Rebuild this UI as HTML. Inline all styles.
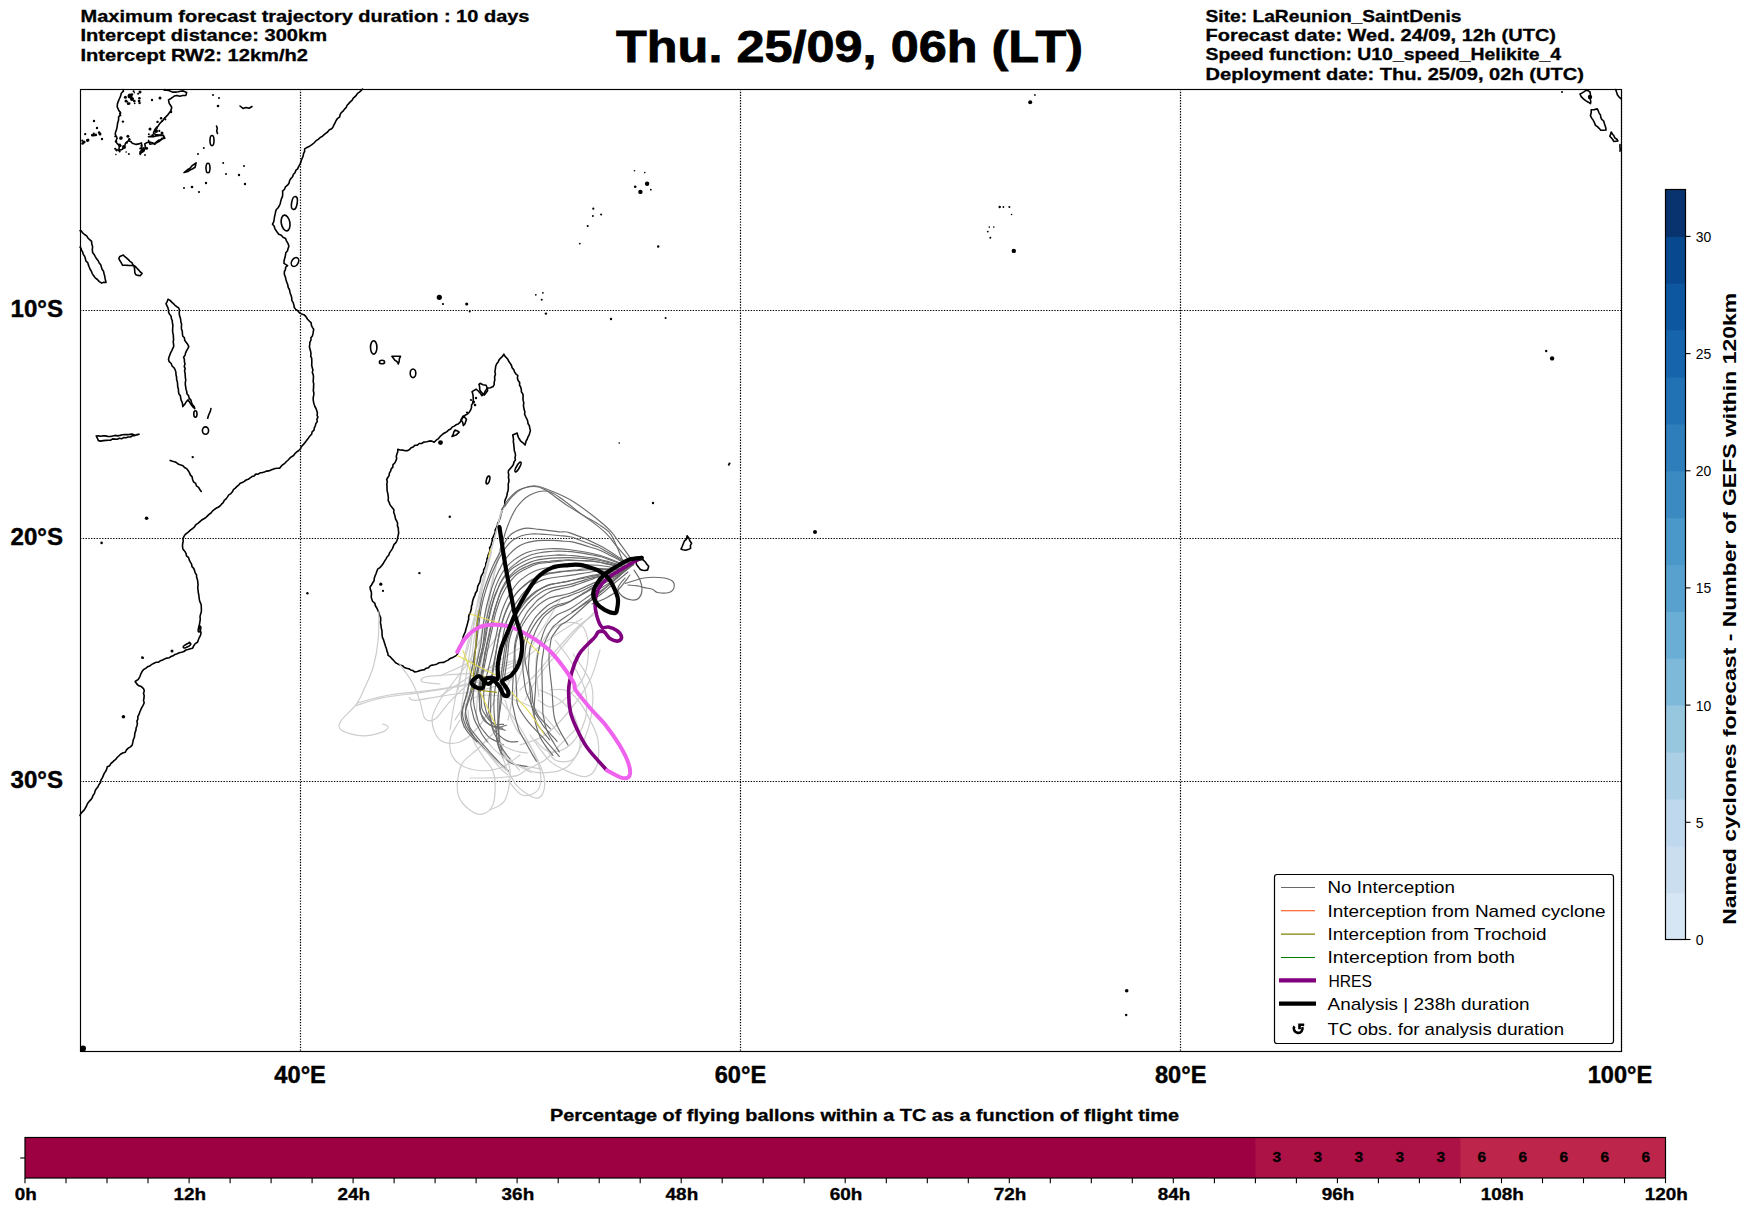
<!DOCTYPE html><html><head><meta charset="utf-8"><style>html,body{margin:0;padding:0;background:#fff;overflow:hidden}svg{display:block}text{font-family:"Liberation Sans",sans-serif;fill:#000}</style></head><body>
<svg width="1752" height="1213" viewBox="0 0 1752 1213">
<rect width="1752" height="1213" fill="#fff"/>
<text x="80.5" y="22.3" font-size="16.4" font-weight="bold" stroke="#000" stroke-width="0.3" textLength="449" lengthAdjust="spacingAndGlyphs" >Maximum forecast trajectory duration : 10 days</text>
<text x="80.5" y="40.5" font-size="16.4" font-weight="bold" stroke="#000" stroke-width="0.3" textLength="246.5" lengthAdjust="spacingAndGlyphs" >Intercept distance: 300km</text>
<text x="80.5" y="60.5" font-size="16.4" font-weight="bold" stroke="#000" stroke-width="0.3" textLength="227.5" lengthAdjust="spacingAndGlyphs" >Intercept RW2: 12km/h2</text>
<text x="1205.5" y="22.1" font-size="16.4" font-weight="bold" stroke="#000" stroke-width="0.3" textLength="256" lengthAdjust="spacingAndGlyphs" >Site: LaReunion_SaintDenis</text>
<text x="1205.5" y="40.6" font-size="16.4" font-weight="bold" stroke="#000" stroke-width="0.3" textLength="350.5" lengthAdjust="spacingAndGlyphs" >Forecast date: Wed. 24/09, 12h (UTC)</text>
<text x="1205.5" y="59.7" font-size="16.4" font-weight="bold" stroke="#000" stroke-width="0.3" textLength="355.5" lengthAdjust="spacingAndGlyphs" >Speed function: U10_speed_Helikite_4</text>
<text x="1205.5" y="80" font-size="16.4" font-weight="bold" stroke="#000" stroke-width="0.3" textLength="378.5" lengthAdjust="spacingAndGlyphs" >Deployment date: Thu. 25/09, 02h (UTC)</text>
<text x="616" y="62" font-size="44.1" font-weight="bold" stroke="#000" stroke-width="0.8" textLength="467" lengthAdjust="spacingAndGlyphs" >Thu. 25/09, 06h (LT)</text>
<g fill="none" stroke="#000" stroke-width="1.6" stroke-linejoin="round" stroke-linecap="round">
<path d="M362.5,89 L361,90.6 L359.4,92.1 L357.5,93.4 L356.3,95.3 L354.7,96.8 L353.1,98.3 L352,100.4 L350.2,101.9 L348.7,103.6 L347.1,105.2 L346.2,107.5 L344.5,109.1 L343.3,110.9 L341.3,112.6 L340.1,114.7 L339.5,117.2 L337.3,118.7 L336,120.7 L335,123 L333.8,125.1 L332.8,127.5 L331.2,129.1 L329,130.1 L327.6,132 L325.7,133.3 L323.9,134.8 L322.3,136.4 L320.2,137.5 L318.2,139.4 L315.8,140.9 L314,143 L311.9,144.7 L309.6,146.2 L307,147.4 L304.7,148.9 L304.6,151.3 L303.5,153.6 L303.2,155.9 L302.3,158 L301.4,160.1 L300.8,162.4 L299.9,164.5 L298.6,166.6 L297.6,168.8 L295.8,170.4 L295,172.7 L293.3,174.5 L292.6,176.8 L290.9,178.5 L289.6,180.7 L289,183.2 L287.5,185.2 L285.5,186.8 L284.5,189.2 L282.6,191.1 L282.7,193.8 L282.5,196.4 L281.4,198.9 L280.7,201.4 L280.2,203.7 L279.3,205.8 L278.1,207.7 L276.4,209.5 L275.6,211.6 L275.2,213.9 L274.6,216.4 L274.2,219 L273.8,221.6 L272.5,224.2 L274.1,226 L274.8,228.3 L275.9,230.3 L277.1,232.1 L278.8,234.2 L281.3,235.2 L283,237.2 L285.6,238.4 L286.3,240.6 L287.5,242.6 L288.5,244.6 L288.8,246.6 L288,248.7 L287.4,251 L285.8,252.8 L285.5,255.1 L284.9,257.8 L284.1,260.5 L284,263.4 L287.6,265.6 L285.7,267.2 L285.4,269.7 L284.4,271.5 L284.3,274.2 L285.3,276.7 L285.9,279.3 L286.6,281.7 L287.7,284.5 L288.2,287.4 L289.6,290 L290,292.7 L291,295.2 L291.7,297.8 L291.9,300.6 L293.2,302.7 L293.9,305.1 L294.3,307.5 L295.7,309.4 L297.8,310.7 L299.4,312.7 L301.5,313.9 L303.9,314.7 L306,316.7 L307.6,319.2 L309.5,321.2 L311.2,322.9 L311.4,325.4 L312.4,327.4 L313.7,329.3 L313.3,331.5 L313,333.7 L312.4,335.9 L310.9,337.7 L311,340.1 L309.9,342.1 L309.8,344.3 L309.4,346.7 L310,349 L310.6,351.3 L311,353.6 L310.7,356.1 L311.7,358.3 L311.8,360.7 L311.8,363.1 L311.7,365.5 L312.3,367.8 L312.9,370.1 L312.3,372.4 L313.2,374.7 L313.5,377 L313.3,379.3 L313.2,381.6 L313.7,383.8 L313.6,386.1 L313.5,388.4 L313.3,390.7 L313.9,393 L313.7,395.3 L313.2,397.6 L313.2,399.9 L313.6,402.2 L314.2,404.4 L314.9,406.5 L316,408.5 L316.7,410.6 L317.4,412.8 L317.1,415.2 L317.9,417.1 L316.9,419.2 L317.2,421.7 L315.8,423.6 L315.3,425.8 L314.3,427.9 L314,430.2 L312.1,431.8 L311.6,434.3 L309.9,436 L308.5,437.9 L307.1,439.7 L305.8,441.6 L304.4,443.4 L302.8,445.1 L301.3,446.8 L300.4,449 L298.7,450.5 L296.8,451.9 L295,453.5 L293.6,455.5 L291.6,456.7 L289.8,458.2 L288.2,460 L286.4,461.5 L284.8,463.3 L282.9,464.7 L281.2,466.2 L279.6,468.3 L277.3,468.3 L275.1,468.5 L273,469.2 L270.9,470 L268.8,470.9 L266.6,471.1 L264.5,471.9 L262.4,472.6 L260.1,472.8 L258.2,474.2 L255.8,474.1 L254.2,475.9 L252,476.6 L250.1,477.9 L248.3,479.3 L246.1,480 L244.3,481.4 L242.3,482.5 L240.2,483.3 L238.7,485.1 L237,486.4 L235.3,488.1 L233.4,489.6 L232.4,491.8 L230.9,493.6 L228.8,494.9 L227.5,496.9 L226.1,498.9 L224.3,500.4 L223.2,502.6 L221.5,504.2 L220,506 L218.1,507.2 L216,508.3 L214.2,509.7 L212.4,511.1 L211,513 L209,514.4 L207.3,516.1 L205.6,517.8 L203.5,519 L201.4,520.3 L199.6,521.8 L197.9,523.4 L195.9,524.7 L194.5,526.8 L192.7,528.5 L190.7,529.8 L189,531.4 L187.2,533 L185.3,534.3 L184,536.4 L183,538.6 L183.2,541.3 L182.6,544 L182.5,546.6 L183,549.3 L184.7,551.2 L186,553.3 L186.5,555.9 L188.6,557.6 L189.3,560.1 L190.4,562.2 L191.6,564.2 L192,566.6 L193.7,568.4 L194.6,570.6 L195.2,572.9 L196.5,574.8 L196.6,577.2 L197.5,579.8 L197.8,582.3 L198.1,584.9 L197.7,587.5 L198.1,590.1 L198.3,592.6 L198.8,595 L199.1,597.5 L199.4,600 L200.2,602.4 L201.2,604.7 L201.3,607.2 L201.4,609.7 L201.3,612.1 L200.5,614.4 L200,616.8 L200.3,619.3 L199.9,621.7 L199.5,624.1 L198.9,626.6 L199.8,628.6 L200.4,630.8 L201,632.8 L200.5,635.3 L199.3,637.5 L198.4,639.7 L197.5,642.2 L195.2,643.6 L193.8,645.7 L192.6,648.2 L190.3,648.7 L188,649.4 L185.8,650 L183.9,651.5 L181.6,652.2 L179.3,652.7 L177.2,653.7 L175,654.4 L173.1,655.8 L171,656.5 L169.1,657.8 L166.8,658.1 L164.6,658.9 L162.6,660 L160.5,660.7 L158.6,662.1 L156.2,662.3 L154,663.3 L151.8,664.4 L149.8,666 L147.5,666.8 L145.6,668.3 L143.5,669.7 L142,671.6 L140.9,673.8 L139.9,676.6 L138.3,679.3 L135.2,681.5 L136.5,683.6 L138.3,685.4 L141.3,686.6 L143.5,688.6 L144.3,691 L143.5,693.3 L144.2,695.7 L144,698 L143.5,700.4 L144.2,702.8 L143.2,705.2 L141.9,707.4 L140.8,709.7 L139.8,712 L139,714.4 L137.8,716.7 L137.9,719.1 L136.9,721.2 L137.4,723.7 L136.9,725.9 L136.1,728.1 L135.9,730.4 L135,732.6 L134.7,734.9 L134.4,737.2 L133.3,739.7 L132.8,742.4 L132.2,745.1 L130.4,746.8 L128.3,748.2 L126.5,749.9 L125.2,752.3 L122.7,753 L120.5,754.2 L118.7,756 L117.1,757.5 L115.8,759.3 L114,760.6 L112.5,762.2 L110.8,763.7 L109.7,765.7 L107.3,766.7 L106.7,769.1 L105.7,771.3 L104.2,773.4 L103.3,775.7 L102.3,777.9 L101,780 L100.5,782.5 L99,784.5 L98,786.7 L96.4,788.7 L95.1,790.9 L94.5,793.4 L93,795.5 L92.1,797.9 L90.6,799.9 L88.9,801.7 L87.4,803.7 L86.5,806 L85.3,808.1 L84.1,810.2 L82.3,811.9 L80.7,813.7 L80,815.5"/>
<path d="M123.1,89.5 L123.4,91.1 L121.3,93.2 L120.6,96.1 L119.5,98.5 L118.5,100.9 L117.4,103.9 L117.2,106.9 L118.9,110.6 L120.6,112.5 L120.1,114.9 L118.6,116.9 L118.6,120.1 L117.6,123.1 L117.2,126.3 L116.6,129.4 L115.7,131.7 L115.2,134.2 L117.1,138 L115.8,141.6 L117.2,143.6 L119.2,145.4 L119.1,147.9 L118.8,150.4 L122.6,149.2 L123.6,147 L124.9,145.1 L125.7,143 L128.5,140.7 L130.7,141.4 L132.3,143.2 L136.2,144.4 L138.7,143.9 L141.3,142.9 L141.9,145.3 L141.9,147.6 L141.8,150 L140.1,151.7 L140,154.4 L141.5,152.5 L143.3,151.5 L145.6,147.8 L144.7,143.9 L147.1,142.5 L149.5,142 L152.2,142.8 L154.9,144.3 L156.3,142 L158.4,140.3 L160.5,139.8 L162.3,138.2 L164.3,138.1 L163.3,135.3 L160.9,135 L158.6,135 L155.7,134.6 L153.4,133 L154.9,129.5 L156.3,127.6 L158.1,126.1 L159.4,124.1 L161.1,122.1 L163,120.3 L164.8,117.8 L167.1,115.7 L169,113.2 L170.9,110.7 L171.7,107.2 L170.5,105.3 L169.2,103.4 L168.5,99.9 L170.5,98.8 L172.1,97.6 L174.3,96.1 L176.9,95.4 L179.8,96.2 L182.7,95.5 L185.9,95.4 L186.7,92.4 L183.1,90.9 L180.6,91.3 L178.2,91.8 L175.7,92.1 L172.5,92.1 L169.5,90.7 L167.1,90.2 L164.2,90.3 L164.6,89.5"/>
<path d="M148.5,136.7 L151,136.4 L153.5,136.6 L155.9,136 L158.3,135.6 L160.8,135.3 L163.3,135.5 L164.9,138.3 L162.5,138.8 L160.7,140.1 L158.9,141.5 L157.1,142.5 L154.7,143.2 L152.2,143.8 L149.8,144.1 L148.5,140.4"/>
<path d="M80,230.7 L81.2,230.7 L82.6,232.9 L84.5,234.5 L86.7,235.9 L88,238.2 L89.9,239.8 L91.6,241.4 L91.8,244.1 L92.6,246.8 L92.3,249.5 L92.6,252.4 L94.1,254.4 L95.3,256.6 L96.6,258.8 L98.2,260.7 L99.2,263 L100.7,264.8 L101.4,267.1 L102.1,269.3 L103.5,271.2 L104,273.5 L104.6,275.7 L105.2,279 L106,282.5 L103.6,282.2 L101.7,283.1 L99.3,281.6 L97.4,279.5 L95.2,277.9 L93.7,275.7 L92.2,273.6 L91.4,271.2 L90.1,269.2 L89.2,267 L88.4,264.9 L87.7,262.6 L85.8,260.9 L85.4,258.5 L84.6,256.3 L83.3,254.4 L82.7,252.2 L81.5,250.2 L81,248.2 L80,247"/>
<path d="M170.2,460.4 L172.4,461.2 L174.6,461.8 L176.7,462.8 L178.6,464.3 L180.8,464.9 L183,465.7 L184.5,467.5 L186.6,468.6 L187.9,470.2 L189.3,472.4 L190.3,474.9 L192.1,476.9 L192.6,479.5 L193.6,482 L195.7,483.4 L196.4,485.9 L198.6,487.3 L199.8,489.5 L201.3,491.4"/>
<path d="M210.9,408.6 L210.4,411.1 L209.3,413.5 L208.4,415.8 L207.7,418.3"/>
<path d="M216.5,126 L217.3,128.4 L216.7,131 L217.5,133.4"/>
<path d="M240,106 L243,108.4 L246,107.5 L249.1,108.3 L252,106.5"/>
<path d="M1615.7,89.5 L1616.6,92.2 L1617.4,94.7 L1618.9,96.9 L1620.9,98.6"/>
<path d="M1620,144.6 L1619.9,146.8 L1620.2,149.1 L1620,151.3"/>
<path d="M503.9,354.1 L504.9,356.1 L506.5,357.8 L508,359.6 L508.9,361.6 L510.3,363.4 L511.5,365.5 L512.1,367.8 L513.7,369.6 L514.5,371.9 L515.8,373.8 L517.8,375.5 L517.4,378.1 L518.1,380.4 L519.7,382.4 L519.5,385 L520.7,387.1 L521.3,389.5 L521.4,391.9 L522.8,394 L523.2,396.4 L522.9,398.7 L523.3,400.9 L523.8,403.1 L523.4,405.3 L523.8,407.6 L524.2,409.8 L524.9,411.9 L524.6,414.2 L525.6,416.5 L526.7,418.7 L527.7,421 L528,423.5 L529.3,425.7 L529.8,428.2 L530.4,430.4 L529.8,432.6 L529.2,434.9 L528,436.9 L527.3,439 L526.1,441 L525.5,443.3 L525.1,445 L522.9,442.8 L520.5,440.8 L519,438.5 L517.9,436.1 L517.2,433.1 L515,434 L512.7,435 L513.2,437.2 L513.5,439.4 L513.3,441.7 L513.7,443.9 L513.9,446.1 L514.2,448.3 L514.3,450.7 L515.2,453 L515.5,455.4 L515,457.9 L515.4,459.9 L514,462 L513.3,464.7 L511.8,466.7 L510.1,468.7 L508.5,470.6 L508.3,472.8 L508.8,475.1 L508.4,477.3 L508.9,479.5 L508.9,481.7 L508.2,483.9 L508.3,486.2 L508.3,488.4 L508,490.7 L507.3,492.9 L507,495.2 L506.3,497.3 L505.3,499.5 L504.7,501.7 L504.9,504.1 L504.3,506.3 L502.6,508.9 L501.8,511.7 L500.7,514.4 L500.5,516.8 L499.6,519 L499,521.3 L497.7,523.3 L497.4,525.7 L496.3,527.8 L495.2,529.9 L495.2,532.4 L494.2,534.5 L493.3,536.6 L492.4,538.8 L492.1,541.2 L491.5,543.4 L491,545.7 L489.6,547.7 L489.9,550.2 L489.4,552.4 L488.3,554.5 L487.8,556.7 L487,558.9 L486.9,561.2 L485.8,563.3 L485.8,565.6 L484.9,567.7 L483.7,569.6 L483.6,571.9 L482.6,573.9 L481.4,575.8 L480.7,577.9 L480.4,580.1 L479.8,582.3 L478.8,584.2 L477.7,586.3 L477.4,588.7 L476.9,591 L475.5,593 L474.9,595.3 L473.8,597.4 L473.1,599.6 L472.4,601.9 L472.3,604.2 L471.4,606.2 L471.4,608.5 L470.8,610.7 L470.2,612.8 L469.1,614.8 L468.6,617 L468.7,619.3 L468,621.4 L467.5,623.6 L466.9,625.7 L466.3,627.9 L465.7,630 L465.2,632.2 L464.2,634.2 L463.3,636.3 L463,638.5 L462.1,640.5 L461.5,642.7 L461,645 L459.6,646.8 L458.6,648.9 L458.4,651.3 L457.8,653.5 L456.5,655.4 L454.4,656.6 L452.3,657.7 L450,658.6 L448.1,660.1 L446,661.1 L443.8,662.4 L441.3,662.5 L438.9,662.8 L436.7,664.2 L434.4,664.7 L432.1,665.1 L430,665.9 L428.5,667.7 L426.2,668.2 L424.5,669.6 L422.2,670 L419.8,670.6 L417.4,671.5 L414.8,672 L412.9,670.6 L410.7,669.9 L408.8,668.8 L406.5,668.3 L404.4,667.5 L402.5,665.7 L400.1,664.9 L397.8,663.9 L395.6,662.8 L393.9,660.8 L392.1,658.9 L390.4,656.9 L388.1,655.4 L387.8,653.1 L386.9,650.9 L386.4,648.6 L385.6,646.4 L384.9,644.2 L384.2,641.9 L383.5,639.7 L382.5,637.6 L382.1,635.1 L382,632.6 L381.9,630.2 L381.2,627.7 L381,625.3 L380.4,622.9 L380.7,620.2 L380.6,617.5 L379.5,615 L379,612.6 L377.8,610.3 L376.8,608 L375.4,605.8 L374.8,603.2 L372.7,601.5 L371.7,599 L371.2,596.7 L371.5,594.3 L371.3,591.9 L370.4,589.6 L370,587 L371.5,585 L372.7,582.8 L374.1,580.7 L374.3,578.1 L375.1,575.9 L376,573.7 L376.8,571.5 L377.6,569.2 L379.9,567.6 L381.8,565.5 L383.4,563.2 L384.6,561.1 L385.9,559.1 L387,557 L388.7,555.2 L389.5,552.9 L390.9,550.9 L392.3,548.9 L393.2,546.6 L394.1,544.4 L395.9,542.6 L397,540.5 L397.6,538.2 L398.1,535.6 L398.7,533 L398.4,530.4 L398.3,527.9 L397.4,525.7 L397.6,523.2 L396.7,521 L395.5,518.9 L395.1,516.7 L394.5,514.4 L393.7,512.3 L393.9,509.7 L392.5,508 L391.1,506.3 L389.8,504.4 L389.2,502.3 L388.1,500.3 L388.4,498 L388.1,495.7 L387.8,493.4 L387.2,491.1 L387,488.8 L387,486.4 L386.8,484.1 L387.3,481.8 L386.7,479.5 L387.8,477.5 L389.1,475.6 L389.4,473.2 L390.6,471.2 L391.2,468.9 L392.8,467.1 L393,464.7 L394.8,463 L395.8,460.9 L396.7,458.8 L396.3,456.4 L396.8,454.2 L397.7,452.1 L397.8,449.4 L400.2,450 L402.7,450.1 L405,450.8 L407.6,450.6 L409.6,449.5 L411.1,447.8 L413.2,446.9 L414.9,445.3 L417.3,445.1 L419.2,443.5 L421.7,443.5 L423.7,442.1 L426.8,441.7 L429.7,440.9 L431.9,441.1 L434.2,442.3 L436.2,440.2 L438.5,438.6 L440.6,436 L443.1,433.8 L445,432.7 L447,431.6 L448.6,430 L450.7,429 L452.1,427.1 L454.2,426.1 L456,424.8 L458.2,423.9 L460,422.4 L461.5,419.6 L462.7,416.5 L465.1,415.3 L467.5,414 L469.3,412.2 L470.6,410 L471.5,407.7 L471.5,405.1 L473,402.9 L473.3,400.3 L473.2,397.9 L473,394.8 L472.1,391.7 L474.1,390.4 L476.1,389.2 L478.3,391 L480.2,393.1 L482,395.7 L484.2,393.3 L485.5,390.7 L487.3,388.3 L490.4,387.8 L493.1,386.6 L494.2,384.5 L494.2,382.2 L494.8,380 L494.6,377 L495.4,374.2 L494.9,371.4 L495.4,368.8 L495.7,366.2 L496.7,363.8 L498.2,361.9 L499.2,359.6 L500.9,357.9 L502.7,356.2 L503.9,354.1 L503.9,354.1Z"/>
<path d="M119.8,256.4 L123.3,255.1 L124.9,256.7 L126.7,258.1 L128.4,259.6 L129.9,261.3 L131.9,262.6 L133.1,265 L135.3,266.4 L137,268.2 L138.7,270.1 L140.3,272 L142.1,273.4 L140.2,275.8 L138,275.4 L135.8,274.7 L134.8,272.7 L134.7,270.4 L134.5,268.2 L133.8,265.6 L131.1,265.5 L128.4,265.4 L125.7,265.2 L122.6,265.3 L121.4,263 L120,260.8 L118.8,258.7 L119.8,256.4Z"/>
<path d="M168,299.3 L170.1,300.4 L171.7,302.1 L173.4,303.6 L175,305.3 L176.8,306.7 L178.7,307.9 L179.5,310.2 L179.2,312.6 L179.4,314.9 L180.1,317.2 L180.7,319.5 L180.9,321.9 L181.6,324.1 L181.4,326.5 L181.4,328.9 L182.3,331.2 L182.4,333.5 L182.7,336 L184.4,337.8 L184.7,340.3 L186.1,342.3 L187.6,344.2 L188.8,346.7 L187.8,348.7 L186.6,350.7 L185.6,352.8 L185.1,355.1 L183.6,357.2 L184.4,359.5 L184.4,361.8 L185,364 L184.2,366.4 L185.2,368.6 L184.5,370.9 L185.1,373.2 L185.2,375.5 L185.4,377.8 L185.8,380.1 L185.3,382.4 L185.3,384.7 L185.7,386.9 L186,389.2 L186.7,391.3 L187,393.8 L188.6,395.7 L189.1,398.1 L190.8,399.9 L191.5,402.2 L192.3,404.5 L194,406.3 L194.8,408.6 L192.8,406.8 L191.2,404.7 L189.7,402.4 L188,399.8 L186.2,401.9 L184.7,404.3 L182.8,406.6 L182.6,404.3 L182.1,402.1 L181.1,400.1 L180.7,397.9 L180.3,395.7 L178.9,393.8 L178.5,391.6 L178.4,389.1 L177.7,386.8 L177.6,384.4 L177.4,381.9 L176.6,379.6 L176.6,377.2 L176,374.8 L175.9,372.4 L175.3,370.1 L174.1,367.8 L172.1,366 L171.2,363.5 L169.2,361.7 L168.5,359.5 L169,357.2 L169.8,355 L170.6,352.9 L171.7,350.8 L172.7,348.7 L173.7,346.5 L173.6,344.1 L173.2,341.8 L173.6,339.4 L173.4,337.1 L173.3,334.8 L172.7,332.4 L172.6,330.1 L172.7,327.7 L172.9,325.4 L172.4,323 L172.3,320.7 L171.4,318.6 L171.1,316.3 L169.7,314.4 L168.6,312.3 L168.5,309.9 L167.9,307.7 L166.9,305.6 L166,303.6 L167.2,301.6 L168,299.3Z"/>
<path d="M96.2,436 L98.5,435.9 L100.8,436.3 L103.1,435.8 L105.4,435.9 L107.7,436.4 L110,436.5 L112.5,436.1 L114.9,435.4 L117.5,435.9 L120,435.4 L122.5,434.8 L125,434.6 L127.3,434.6 L129.7,434.4 L132,434.1 L134.4,435 L136.8,435 L139.1,434.2 L136.8,434.6 L134.8,435.6 L132.5,435.8 L130.4,437 L128.1,437 L126,437.7 L123.7,437.6 L121.6,438.8 L119.3,438.3 L117.2,439.3 L114.9,439.1 L112.6,438.9 L110.5,440.2 L108.3,440.2 L106,440.4 L103.3,440.6 L100.7,441.1 L98.4,440.6 L97.4,438.3 L96.2,436Z"/>
<path d="M184,172.6 L185.9,171 L187.9,169.4 L190.1,168.1 L191.9,165.9 L194,164.3 L196.1,162.8 L195.1,167.2 L192.7,168.7 L190.1,169.9 L187.9,171.5 L184,172.6Z"/>
<path d="M636,561.2 L638.2,560.6 L640.3,559.8 L642.7,559.4 L645.5,562.2 L646.8,564.3 L648.7,566.3 L647.6,569.9 L645.1,570.5 L642.6,570.3 L640.4,569.4 L638.8,567.5 L636.5,564.5 L636,561.2Z"/>
<path d="M687.1,535.7 L688.8,538 L689.8,540.7 L691.6,543.2 L690.4,545.5 L690.6,548.4 L688.1,549.6 L685.6,550.3 L683,549.8 L681,549 L682.2,546.5 L683.2,544 L684.3,541.2 L686.5,539.1 L687.1,535.7Z"/>
<path d="M480.1,383.3 L482.9,384.8 L486.1,385.3 L487.1,387.8 L487.6,390.7 L485.9,393 L484.3,395.1 L482.5,393.6 L481.2,391.9 L479.8,390 L479.6,386.9 L479,384.3 L480.1,383.3Z"/>
<path d="M461,419.6 L462.6,417.9 L464.2,416.4 L466.5,419.4 L465.7,421.5 L465,423.7 L463.4,425.6 L462.7,422.4 L461,419.6Z"/>
<path d="M452,436.5 L453.2,434.4 L453.8,432.1 L454.9,430.1 L457.5,430.9 L459.2,432.1 L456,435.1 L452,436.5Z"/>
<path d="M391.9,356.3 L394.6,356.3 L397.3,356.3 L400.5,356.4 L399.4,358.7 L399.2,361.3 L398.3,363.9 L397.1,361.6 L394.9,360.3 L393.4,358.3 L391.9,356.3Z"/>
<path d="M1591.2,109.7 L1594.2,109.6 L1597.3,108.9 L1598.3,110.9 L1599.1,113.1 L1600.5,115 L1600.8,117.3 L1601.7,119.4 L1603.7,121 L1604.3,123.2 L1605,125.3 L1605.8,127.9 L1606.1,130 L1603.4,130.2 L1600.6,130.1 L1599.1,128.3 L1597.4,126.7 L1595.5,125.4 L1594.5,122.8 L1593.3,120.4 L1591.7,118.1 L1590.4,115.7 L1591.2,112.8 L1591.2,109.7Z"/>
<path d="M1611.2,132 L1612.4,134 L1613.9,135.7 L1614.8,137.9 L1616.9,139.2 L1617.9,141 L1613.9,141.5 L1612.2,138.8 L1609.8,136.3 L1610.6,134.2 L1611.2,132Z"/>
<path d="M1580,94 L1582.2,92.9 L1584.2,91.6 L1585.9,90.3 L1588.1,90.7 L1590,92 L1590.4,94.3 L1590.1,96.7 L1590.2,99.1 L1590.8,101.4 L1590.5,103.7 L1588.3,102.2 L1586,100.9 L1583.4,98.8 L1581.2,96.7 L1580,94Z"/>
<ellipse cx="294.4" cy="203" rx="2.8" ry="6.5" transform="rotate(10 294.4 203)"/>
<ellipse cx="285.6" cy="223" rx="4.3" ry="8" transform="rotate(-10 285.6 223)"/>
<ellipse cx="295" cy="262" rx="3.3" ry="4.8" transform="rotate(30 295 262)"/>
<ellipse cx="373.7" cy="347.4" rx="3.2" ry="6.7" transform="rotate(0 373.7 347.4)"/>
<ellipse cx="382" cy="362" rx="2.6" ry="1.8" transform="rotate(0 382 362)"/>
<ellipse cx="413" cy="373.3" rx="2.8" ry="4.3" transform="rotate(0 413 373.3)"/>
<ellipse cx="518" cy="467" rx="1.5" ry="5.5" transform="rotate(30 518 467)"/>
<ellipse cx="488" cy="480" rx="1.6" ry="4" transform="rotate(15 488 480)"/>
<ellipse cx="195.4" cy="414" rx="1.6" ry="3.2" transform="rotate(0 195.4 414)"/>
<ellipse cx="205.5" cy="430.6" rx="3.1" ry="3.7" transform="rotate(0 205.5 430.6)"/>
<ellipse cx="208" cy="168" rx="2" ry="4.8" transform="rotate(0 208 168)"/>
<ellipse cx="212" cy="140.6" rx="2" ry="5.1" transform="rotate(0 212 140.6)"/>
<ellipse cx="187" cy="645.5" rx="4.2" ry="1.4" transform="rotate(-28 187 645.5)"/>
<ellipse cx="199.5" cy="629" rx="1.2" ry="3" transform="rotate(10 199.5 629)"/>
</g>
<g fill="#000">
<circle cx="634.5" cy="170.7" r="0.8"/>
<circle cx="644.8" cy="172.6" r="0.8"/>
<circle cx="647.1" cy="183.7" r="2.2"/>
<circle cx="635.2" cy="186.7" r="1.3"/>
<circle cx="640.4" cy="191.9" r="2.2"/>
<circle cx="650.8" cy="189.7" r="0.9"/>
<circle cx="593.3" cy="208.7" r="1.1"/>
<circle cx="592.9" cy="216" r="1"/>
<circle cx="601.1" cy="214.5" r="1"/>
<circle cx="587.7" cy="226" r="1.1"/>
<circle cx="579.8" cy="243.6" r="0.9"/>
<circle cx="658.2" cy="246.5" r="1.2"/>
<circle cx="439.3" cy="297.3" r="2.6"/>
<circle cx="443" cy="304" r="1.1"/>
<circle cx="466.7" cy="304" r="1.6"/>
<circle cx="535.8" cy="294.8" r="0.9"/>
<circle cx="542.9" cy="292.8" r="0.9"/>
<circle cx="541.7" cy="299.8" r="1"/>
<circle cx="469.7" cy="311.4" r="1"/>
<circle cx="545.9" cy="313.6" r="1.2"/>
<circle cx="665.6" cy="318" r="1"/>
<circle cx="1034.9" cy="94.9" r="0.9"/>
<circle cx="999.7" cy="207" r="1.2"/>
<circle cx="1003.4" cy="207" r="0.9"/>
<circle cx="1009.4" cy="207" r="1"/>
<circle cx="1011.6" cy="214.5" r="0.8"/>
<circle cx="989.3" cy="227.1" r="0.8"/>
<circle cx="993.8" cy="227.1" r="0.8"/>
<circle cx="987.8" cy="231.6" r="0.9"/>
<circle cx="990.3" cy="237.8" r="1"/>
<circle cx="1552.1" cy="358.4" r="2.2"/>
<circle cx="1546.2" cy="351" r="1.2"/>
<circle cx="1126.7" cy="990.8" r="1.8"/>
<circle cx="1126.2" cy="1015" r="1.2"/>
<circle cx="815" cy="532" r="2"/>
<circle cx="619.2" cy="443" r="0.8"/>
<circle cx="728.8" cy="464.8" r="1"/>
<circle cx="192.7" cy="457.1" r="1.2"/>
<circle cx="146.6" cy="518.2" r="1.8"/>
<circle cx="101.6" cy="542.9" r="1.3"/>
<circle cx="307.4" cy="593.3" r="1.2"/>
<circle cx="142.3" cy="657.6" r="1.3"/>
<circle cx="143" cy="658" r="1"/>
<circle cx="123.4" cy="716.8" r="1.8"/>
<circle cx="172" cy="651" r="1.5"/>
<circle cx="189.3" cy="642.4" r="1"/>
<circle cx="449.8" cy="516.7" r="1.2"/>
<circle cx="419.4" cy="573.1" r="1.2"/>
<circle cx="380.8" cy="584.2" r="1.6"/>
<circle cx="383" cy="590.9" r="1.1"/>
<circle cx="213" cy="95" r="1"/>
<circle cx="219" cy="98" r="1"/>
<circle cx="218" cy="106" r="1.3"/>
<circle cx="184" cy="188" r="1"/>
<circle cx="192" cy="187" r="1.3"/>
<circle cx="199" cy="192" r="1.1"/>
<circle cx="206" cy="183" r="1.2"/>
<circle cx="203.8" cy="148" r="1"/>
<circle cx="198" cy="154" r="1"/>
<circle cx="223.2" cy="163" r="1"/>
<circle cx="226" cy="174" r="1"/>
<circle cx="239" cy="175" r="1.2"/>
<circle cx="244" cy="166" r="1"/>
<circle cx="245" cy="184" r="1.2"/>
<circle cx="94" cy="121" r="1.2"/>
<circle cx="97" cy="128" r="1.2"/>
<circle cx="100" cy="134" r="1.5"/>
<circle cx="102" cy="139" r="1.2"/>
<circle cx="84" cy="142" r="1.6"/>
<circle cx="88" cy="140" r="1.5"/>
<circle cx="130" cy="96" r="2.5"/>
<circle cx="132" cy="99" r="2"/>
<circle cx="126" cy="101" r="1.5"/>
<circle cx="140" cy="92" r="1.5"/>
<circle cx="160" cy="98" r="1.5"/>
<circle cx="150" cy="129" r="1.5"/>
<circle cx="156" cy="131" r="2"/>
<circle cx="162" cy="133" r="1.5"/>
<circle cx="124" cy="147" r="2"/>
<circle cx="121" cy="138" r="1.8"/>
<circle cx="143" cy="150" r="2"/>
<circle cx="152" cy="100" r="1.2"/>
<circle cx="171" cy="112" r="1.3"/>
<circle cx="83" cy="1048.5" r="3"/>
<circle cx="1013.8" cy="250.9" r="2.2"/>
<circle cx="1030.2" cy="102.3" r="2"/>
<circle cx="611" cy="319" r="1.2"/>
<circle cx="653" cy="503" r="1.2"/>
<circle cx="729.5" cy="463.5" r="1.1"/>
<circle cx="440.5" cy="442.6" r="2.4"/>
<circle cx="473.5" cy="402" r="1.6"/>
<circle cx="475" cy="405" r="1.3"/>
<circle cx="471" cy="400" r="1.1"/>
<circle cx="476" cy="398" r="1.2"/>
<circle cx="467" cy="412.5" r="1.1"/>
<circle cx="1562" cy="92" r="1"/>
<circle cx="1590" cy="97" r="2.2"/>
<circle cx="134.3" cy="101.1" r="1.4"/>
<circle cx="139.1" cy="101.1" r="1.4"/>
<circle cx="125.4" cy="97.3" r="1.5"/>
<circle cx="134.7" cy="103.3" r="0.9"/>
<circle cx="132" cy="94.4" r="1.2"/>
<circle cx="133.6" cy="91.2" r="1"/>
<circle cx="129.2" cy="103.5" r="1.3"/>
<circle cx="127.4" cy="101.8" r="0.9"/>
<circle cx="134.3" cy="92.7" r="0.8"/>
<circle cx="138.1" cy="93.8" r="1"/>
<circle cx="139.7" cy="102.9" r="1"/>
<circle cx="139.4" cy="98.3" r="1.3"/>
<circle cx="128.1" cy="103.8" r="1.3"/>
<circle cx="139.5" cy="103.2" r="1"/>
<circle cx="120.4" cy="138.7" r="0.9"/>
<circle cx="116" cy="141.4" r="1.2"/>
<circle cx="115.1" cy="148.7" r="1"/>
<circle cx="119.6" cy="151.5" r="1.1"/>
<circle cx="119.7" cy="144.9" r="1.3"/>
<circle cx="115.9" cy="154.5" r="0.8"/>
<circle cx="126.2" cy="152" r="0.8"/>
<circle cx="126.8" cy="142.6" r="1.2"/>
<circle cx="115.1" cy="136.4" r="0.9"/>
<circle cx="129.3" cy="139.3" r="1.3"/>
<circle cx="128.9" cy="153.9" r="1"/>
<circle cx="120.3" cy="145.7" r="1.3"/>
<circle cx="116.6" cy="150.1" r="1.4"/>
<circle cx="127.9" cy="136.2" r="1.5"/>
<circle cx="140.5" cy="148.4" r="1.2"/>
<circle cx="146.7" cy="148.4" r="1.4"/>
<circle cx="143.9" cy="148.1" r="1"/>
<circle cx="141.1" cy="145.8" r="0.9"/>
<circle cx="145" cy="155" r="0.9"/>
<circle cx="157.5" cy="121.9" r="1.2"/>
<circle cx="161.1" cy="118.2" r="1.2"/>
<circle cx="165.3" cy="119.3" r="1.1"/>
<circle cx="157.6" cy="121.6" r="0.8"/>
<circle cx="161.9" cy="121.2" r="0.9"/>
<circle cx="156.2" cy="135.1" r="1.2"/>
<circle cx="156.9" cy="127.9" r="1.1"/>
<circle cx="148.9" cy="134.2" r="1"/>
<circle cx="152.7" cy="135.5" r="1.4"/>
<circle cx="159.3" cy="130.9" r="1.1"/>
<circle cx="156.2" cy="131.1" r="1"/>
<circle cx="120" cy="113.5" r="1.1"/>
<circle cx="122.9" cy="121.6" r="1.2"/>
<circle cx="120.5" cy="115.4" r="0.9"/>
<circle cx="92.4" cy="135.2" r="1.4"/>
<circle cx="93.8" cy="135.3" r="1.3"/>
<circle cx="99.1" cy="132.6" r="1.3"/>
<circle cx="93.8" cy="133.5" r="1"/>
<circle cx="95.8" cy="134.9" r="1.3"/>
<circle cx="82.6" cy="143.5" r="1.3"/>
<circle cx="85.2" cy="134.1" r="1.2"/>
<circle cx="82.3" cy="140.7" r="1.1"/>
<circle cx="87.4" cy="140.5" r="1.4"/>
</g>
<g stroke="#000" stroke-width="1.2" stroke-dasharray="1.37 1.39" fill="none">
<path d="M300.5,89 V1051"/>
<path d="M740.5,89 V1051"/>
<path d="M1180.5,89 V1051"/>
<path d="M1621.5,89 V1051"/>
<path d="M80,310.5 H1621"/>
<path d="M80,538.5 H1621"/>
<path d="M80,781.5 H1621"/>
<path d="M80,1051.5 H1621"/>
</g>
<g fill="none" stroke-linecap="round" stroke-linejoin="round">
<g stroke="#cdcdcd" stroke-width="1.2">
<path d="M378.8,611.9 C378.7,616.5 379.1,630.6 378.2,639.6 C377.3,648.6 375.6,658.3 373.5,666 C371.4,673.7 368.5,679.4 365.6,685.8 C362.8,692.2 360.6,698.3 356.4,704.2 C352.2,710.1 343,717 340.6,721.4 C338.2,725.8 338.2,728.2 341.9,730.6 C345.6,733 356.2,735.7 363,735.9 C369.8,736.1 378.6,733.4 382.8,731.9 C387,730.4 388,727.9 388,726.6 C388,725.3 383.7,724.4 382.8,724"/>
<path d="M356.4,705.5 C360.8,704.2 371.8,699.8 382.8,697.6 C393.8,695.4 409.1,694.3 422.3,692.3 C435.5,690.3 452.3,687.5 461.9,685.8 C471.5,684 473.6,683.4 480,681.8 C486.4,680.2 493.3,678.3 500,676 C506.7,673.7 516.7,669.3 520,668"/>
<path d="M357.7,702.9 C363,701.6 376.4,697.2 389.4,695 C402.4,692.8 422.1,691.7 435.5,689.7 C448.9,687.7 459.2,686 470,683 C480.8,680 490.8,675.8 500,672 C509.2,668.2 520.8,662 525,660"/>
<path d="M399.9,664.6 C401.9,667.5 408.5,675.8 411.8,681.8 C415.1,687.8 417.5,694.1 419.7,700.3 C421.9,706.4 422.4,715.6 425,718.7 C427.6,721.8 431.6,721.3 435.5,718.7 C439.4,716.1 444.3,707.7 448.7,702.9 C453.1,698.1 456.7,694.4 461.9,689.7 C467.1,685.1 473.6,680 480,675 C486.4,670 493.3,664.5 500,660 C506.7,655.5 516.7,650 520,648"/>
<path d="M440,684 C437.1,683.6 424.8,683 422.3,681.8 C419.8,680.6 421.2,678.1 425,677 C428.8,675.9 438.9,675.5 445,675 C451.1,674.5 456.1,674.3 461.9,673.9 C467.7,673.5 473.6,673.6 480,672.6 C486.4,671.6 493.3,670.1 500,668 C506.7,665.9 516.7,661.3 520,660"/>
<path d="M409.2,697.6 C410.3,698 409.2,700.7 415.8,700.3 C422.4,699.9 439.7,696.4 448.7,695 C457.7,693.6 463.1,693.2 470,692 C476.9,690.8 483.3,690 490,688 C496.7,686 506.7,681.3 510,680"/>
<path d="M495.2,731.4 C492.3,734.3 483.1,743.8 477.7,749 C472.3,754.2 466,757.6 462.6,762.8 C459.2,768 458.2,774.8 457.6,780.4 C457,786 456.9,791.9 458.8,796.7 C460.7,801.5 465.1,806.4 468.9,809.3 C472.7,812.2 477.4,814.9 481.4,814.3 C485.4,813.7 490.4,810.5 492.7,805.5 C495,800.5 495.2,790.1 495.2,784.2 C495.2,778.4 494.6,774.8 492.7,770.4 C490.8,766 486.8,762.2 483.9,757.8 C481,753.4 477.5,748.6 475.2,744 C472.9,739.4 471.2,735.7 470,730 C468.8,724.3 468.3,713.3 468,710"/>
<path d="M507.8,770.4 C509.5,773.1 513.2,782.1 517.8,786.7 C522.4,791.3 531.2,797 535.4,798 C539.6,799 541.5,796.4 543,793 C544.5,789.6 545.1,783.4 544.2,777.9 C543.4,772.4 540.6,766.2 537.9,760.3 C535.2,754.4 531.2,747.5 527.9,742.7 C524.5,737.9 520.8,736 517.8,731.4 C514.8,726.8 512.1,720.2 510,715 C507.9,709.8 505.8,702.5 505,700"/>
<path d="M530,735 C533.2,739.2 543.3,754.4 549.2,760.3 C555.1,766.2 559.5,767.7 565.6,770.4 C571.7,773.1 580.5,777.5 585.7,776.6 C590.9,775.8 595,771.4 597,765.3 C599,759.2 599.2,747.5 598,740 C596.8,732.5 593.3,726.7 590,720 C586.7,713.3 582.2,705 578,700 C573.8,695 569.7,691.7 565,690 C560.3,688.3 552.5,690 550,690"/>
<path d="M470,778 C474.4,778 490,778.1 496.5,777.9 C503,777.7 505.6,777 509.1,776.6 C512.6,776.2 514.7,776.6 517.8,775.4 C520.9,774.1 523.4,771.7 527.9,769.1 C532.4,766.5 539.6,764 545,760 C550.4,756 555,750 560,745 C565,740 572.5,732.5 575,730"/>
<path d="M593.5,615 C591.2,616.7 584.4,621.2 580,625 C575.6,628.8 572,632.5 567,638 C562,643.5 555,651.5 549.7,657.7 C544.4,663.9 540,669.6 535,675 C530,680.4 522.5,687.5 520,690"/>
<path d="M573.3,654 C576.3,658.9 588,674.3 591.1,683.6 C594.2,692.9 593,701.1 592,710 C591,718.9 589.3,727.5 585.2,737 C581.1,746.5 575.3,760.8 567.4,766.7 C559.5,772.7 545.6,773 537.7,772.7 C529.8,772.4 523,766.3 520,765"/>
<path d="M582.2,618.4 C578.5,620.7 567.4,627.1 560,632 C552.6,636.9 544.4,642.5 537.7,648 C531,653.5 525.5,658 520,665 C514.5,672 507.5,685.8 505,690"/>
<path d="M480,640 C478.3,643.3 474.2,653.3 470,660 C465.8,666.7 460,673.3 455,680 C450,686.7 443.8,693.3 440,700 C436.2,706.7 432,713.3 432,720 C432,726.7 435.3,736.3 440,740 C444.7,743.7 453.3,744.5 460,742 C466.7,739.5 474.2,732 480,725 C485.8,718 492.5,704.2 495,700"/>
<path d="M555,640 C557.5,643.3 565,651.7 570,660 C575,668.3 582.5,680 585,690 C587.5,700 587.5,710.8 585,720 C582.5,729.2 575.8,739.7 570,745 C564.2,750.3 555.8,752.8 550,752 C544.2,751.2 537.5,742 535,740"/>
<path d="M500,700 C502.5,703.3 510,712.5 515,720 C520,727.5 525.8,736.7 530,745 C534.2,753.3 538.7,762.5 540,770 C541.3,777.5 541,785.8 538,790 C535,794.2 527,796.7 522,795 C517,793.3 510.3,782.5 508,780"/>
<path d="M460,720 C458.3,723.3 450.8,733.3 450,740 C449.2,746.7 450.8,755 455,760 C459.2,765 467.5,768.7 475,770 C482.5,771.3 492.5,770.5 500,768 C507.5,765.5 516.7,757.2 520,755"/>
<path d="M540,690 C543.3,691.7 554.2,695.3 560,700 C565.8,704.7 571.7,710.5 575,718 C578.3,725.5 580.5,738 580,745 C579.5,752 576.2,757.5 572,760 C567.8,762.5 559.5,762.5 555,760 C550.5,757.5 546.7,747.5 545,745"/>
<path d="M478,610 C476.7,615 472.7,630 470,640 C467.3,650 464.5,660 462,670 C459.5,680 457,690 455,700 C453,710 450.8,725 450,730"/>
<path d="M520,600 C518.7,605 514.7,620 512,630 C509.3,640 506.3,648.3 504,660 C501.7,671.7 498.7,686.7 498,700 C497.3,713.3 498,728.3 500,740 C502,751.7 509.2,760 510,770 C510.8,780 508.3,793.3 505,800 C501.7,806.7 492.5,808.3 490,810"/>
<path d="M538.9,696.6 C538.5,689.7 534,667.1 536.8,655.4 C539.5,643.7 548.2,631.8 555.4,626.6 C562.6,621.5 574.6,621.4 580.1,624.5 C585.6,627.6 587.6,636.5 588.3,645.1 C589,653.7 587.6,667.4 584.2,676 C580.8,684.6 573.2,691.5 567.7,696.6 C562.2,701.8 556.2,706.3 551.2,706.9 C546.2,707.5 540.2,701.1 538,700"/>
<path d="M596.6,610 C593,613.7 581.9,624.4 575,632 C568.1,639.6 561.4,648.1 555.4,655.4 C549.4,662.7 544,668.6 538.9,676 C533.8,683.4 527.3,696 525,700"/>
<path d="M440,676 C446.9,672.6 471.6,662.3 481.2,655.4 C490.8,648.5 492.9,641.5 497.7,634.8 C502.5,628.1 507.9,618.3 510,615"/>
<path d="M440,696.6 C445.1,693.2 462.3,680.8 470.9,676 C479.5,671.2 484.1,670.5 491.5,667.8 C498.9,665.1 511.1,661.3 515,660"/>
<path d="M491.5,552.4 C490.1,557.8 485.8,574.7 483,585 C480.2,595.3 478.1,602.5 475,614.2 C471.9,625.9 467.5,642.8 464.7,655.4 C461.9,668 459.1,684.2 458,690"/>
<path d="M503.9,538 C502.6,542.5 498.4,555.7 496,565 C493.6,574.3 491.7,582.8 489.4,593.6 C487.1,604.4 484.2,618.1 482,630 C479.8,641.9 477,659.2 476,665"/>
<path d="M560,600 C558,603.3 553,611.7 548,620 C543,628.3 535.5,638.3 530,650 C524.5,661.7 518.7,678.3 515,690 C511.3,701.7 509.2,715 508,720"/>
<path d="M600,650 C598.3,655 595,670 590,680 C585,690 577.5,700.8 570,710 C562.5,719.2 553.3,729.2 545,735 C536.7,740.8 524.2,743.3 520,745"/>
<path d="M455,720 C457.5,716.7 464.2,704.2 470,700 C475.8,695.8 482.5,695 490,695 C497.5,695 506.7,697.2 515,700 C523.3,702.8 532.5,706.2 540,712 C547.5,717.8 556.7,731.2 560,735"/>
<path d="M505,506.2 C504.2,507.7 502.2,509.8 500.4,515.4 C498.6,521 496.7,530.1 494,540 C491.3,549.9 487,563.3 484,575 C481,586.7 478.3,597.5 476,610 C473.7,622.5 472,636.7 470,650 C468,663.3 465.4,679.7 464,690 C462.6,700.3 461.3,705.7 461.3,712 C461.3,718.3 463.6,725.3 464,728"/>
<path d="M501.5,509.6 C500.9,512.2 499.9,517.4 498,525 C496.1,532.6 492.8,543.3 490,555 C487.2,566.7 483.7,580.8 481,595 C478.3,609.2 476,625.8 474,640 C472,654.2 470.2,670 469,680 C467.8,690 467.3,696.7 467,700"/>
<path d="M500,550 C498.5,556.7 493.7,575 491,590 C488.3,605 486.2,623.3 484,640 C481.8,656.7 479.3,676.7 478,690 C476.7,703.3 476.3,715 476,720"/>
</g>
<g stroke="#6b6b6b" stroke-width="1.15">
<path d="M633,562 C632.6,562.4 635.9,567.2 630.5,564.5 C625,561.8 610.3,551 600.2,545.7 C590.2,540.4 576.9,535.2 570,532.9 C563.1,530.6 564,532.5 558.9,531.9 C553.8,531.3 544.9,530 539.1,529.4 C533.3,528.8 529.2,527.3 524.3,528.4 C519.3,529.5 513.2,532.2 509.4,535.8 C505.6,539.3 504.1,544.9 501.5,549.7 C498.9,554.5 495.9,559.7 493.6,564.6 C491.3,569.5 489.4,574.5 487.6,579.4 C485.8,584.3 484,589.3 482.7,594.3 C481.4,599.2 480.5,604.1 479.7,609.1 C478.9,614.1 478.5,617.2 477.7,624 C476.9,630.8 476.6,639 475,650 C473.4,661 470.3,679.2 468,690 C465.7,700.8 461.6,708.3 461.3,715 C461,721.7 463.7,725.6 466.4,730.2 C469.1,734.8 475.8,740.6 477.7,742.7"/>
<path d="M633,562 C632.3,562.7 634.5,567.2 628.9,566.1 C623.3,565 609.3,557.9 599.5,555.2 C589.6,552.5 578.4,550.8 570,549.7 C561.6,548.6 555.8,548.4 549,548.7 C542.2,549 535,549.9 529.2,551.7 C523.4,553.5 518.5,556.6 514.4,559.6 C510.3,562.6 507.5,565.4 504.5,569.5 C501.5,573.6 498.6,579.4 496.5,584.4 C494.4,589.4 493.1,594.2 491.6,599.2 C490.1,604.2 488.8,609.2 487.6,614.1 C486.5,619 485.6,622.9 484.7,628.9 C483.8,634.9 484.1,639.8 482,650 C479.9,660.2 474.8,679.1 472,690 C469.2,700.9 465.2,708 465.1,715.1 C465,722.2 468.1,726.9 471.4,732.7 C474.7,738.5 482.7,747.1 485,750"/>
<path d="M633,562 C632.1,562.9 633.1,568 627.3,567.7 C621.6,567.4 608.2,561.9 598.7,560.2 C589.1,558.6 579.9,557.7 570,557.6 C560.1,557.5 547.6,558 539.1,559.6 C530.6,561.2 524.2,564.7 519.3,567.5 C514.3,570.3 512.4,572.8 509.4,576.4 C506.4,580 503.6,584.7 501.5,589.3 C499.4,593.9 498,599.2 496.5,604.2 C495,609.2 493.8,614 492.6,619 C491.5,624 490.7,628.7 489.6,633.9 C488.5,639.1 487.6,640.6 486,650 C484.4,659.4 480.8,679.1 480,690 C479.2,700.9 479.7,709.2 481.4,715.1 C483.1,721 486.2,722.7 490.2,725.2 C494.2,727.7 502.8,729.4 505.3,730.2"/>
<path d="M633,562 C631.8,563.2 631.6,568.7 625.8,569.2 C619.9,569.8 607.2,565.9 597.9,565.3 C588.6,564.6 579.8,564.8 570,565.5 C560.2,566.2 547.2,567.2 539.1,569.5 C531,571.8 525.9,575.8 521.3,579.4 C516.7,583 514.2,587.2 511.4,591.3 C508.6,595.4 506.5,599.6 504.5,604.2 C502.5,608.8 500.8,614 499.5,619 C498.2,624 497.6,628.7 496.5,633.9 C495.4,639.1 495.1,640.6 493,650 C490.9,659.4 485.1,679.6 484,690 C482.9,700.4 484.4,706.5 486.5,712.6 C488.6,718.7 493.2,724.3 496.5,726.4 C499.8,728.5 504.8,725.4 506.5,725.2"/>
<path d="M633,562 C631.5,563.5 630.2,569.3 624.2,570.8 C618.2,572.4 606.1,570.5 597.1,571.3 C588.1,572.1 578.8,574.1 570,575.4 C561.2,576.7 551.2,577.1 544.1,579.4 C537,581.7 531.7,585.7 527.2,589.3 C522.7,592.9 520.3,597.1 517.3,601.2 C514.3,605.3 511.5,609.5 509.4,614.1 C507.3,618.7 505.9,622.9 504.5,628.9 C503.1,634.9 502.8,638.1 501,650 C499.2,661.9 494.8,686 494,700 C493.2,714 495.4,725.6 496.5,734 C497.6,742.4 498,745.5 500.3,750.3 C502.6,755.1 505.7,760.1 510.3,762.8 C514.9,765.5 525,766 527.9,766.6"/>
<path d="M633,562 C631.3,563.7 628.7,569.9 622.6,572.4 C616.5,574.9 605.1,574.9 596.3,576.9 C587.5,578.9 578.2,582.3 570,584.4 C561.8,586.5 553.3,586.8 547,589.3 C540.7,591.8 536.5,595.4 532.2,599.2 C527.9,603 524.3,607.8 521.3,612.1 C518.3,616.4 516.4,620.4 514.4,625 C512.4,629.6 510.6,634.2 509.4,640 C508.2,645.8 508.6,648.3 507,660 C505.4,671.7 501.8,697 500,710 C498.2,723 496,729.7 496.5,737.7 C497,745.7 501.8,754.4 502.8,757.8"/>
<path d="M633,562 C631,564 627.3,570.6 621,574 C614.8,577.4 604,579.2 595.5,582.4 C587,585.7 577.8,590.7 570,593.3 C562.2,595.9 554.6,595.9 549,598.2 C543.4,600.5 539.9,603.6 536.1,607.1 C532.3,610.6 529,614.9 526.2,619 C523.4,623.1 521.2,626.7 519.3,631.9 C517.4,637.1 515.5,640.3 515,650 C514.5,659.7 516.1,680.8 516.6,690 C517.1,699.2 515.9,699.9 517.8,705.1 C519.7,710.3 523.7,716 527.9,721.4 C532.1,726.8 537.8,731.9 543,737.7 C548.2,743.6 556.6,753.4 559.3,756.5"/>
<path d="M633,562 C630.7,564.3 625.8,571.3 619.5,575.5 C613.1,579.8 603,583.2 594.7,587.5 C586.5,591.7 576.8,598.1 570,601.2 C563.2,604.3 558.6,603.8 554,606.1 C549.4,608.4 545.6,611.5 542.1,615 C538.6,618.5 535.7,622.7 533.2,626.9 C530.7,631.1 528.6,634.5 527.2,640 C525.8,645.5 524.2,651.7 525,660 C525.8,668.3 530.4,682.9 531.7,690 C533,697.1 531.9,698.4 532.9,702.6 C533.9,706.8 535,710.7 537.9,715.1 C540.8,719.5 548.4,726.6 550.5,728.9"/>
<path d="M633,562 C630.5,564.5 624.4,572 617.9,577.1 C611.4,582.2 601.9,587.2 593.9,592.5 C586,597.8 576.2,605.4 570,609.1 C563.8,612.8 560.7,612.4 556.9,615 C553.1,617.6 549.6,620.8 547,625 C544.4,629.2 542.8,634.2 541.1,640 C539.4,645.8 538,651.7 537,660 C536,668.3 535.9,680.8 535.4,690 C534.9,699.2 533.4,707.1 534.2,715.1 C535.1,723.1 537.4,731 540.5,737.7 C543.6,744.4 550.9,752.4 553,755.3"/>
<path d="M633,562 C630.2,564.8 622.9,572.6 616.3,578.7 C609.7,584.8 600.9,591.8 593.2,598.5 C585.4,605.3 575.4,614.6 570,619 C564.6,623.4 563.6,622.5 560.9,625 C558.2,627.5 555.6,631.4 554,633.9 C552.4,636.4 551.8,635.6 551,640 C550.2,644.4 548.8,651.7 549,660 C549.2,668.3 551,680 552,690 C553,700 552.3,710.8 555,720 C557.7,729.2 565.8,740.8 568,745"/>
<path d="M632,560.4 C630.1,557.7 624.1,549.2 620.4,544.2 C616.7,539.2 614.4,535 610,530.4 C605.6,525.8 600,521.3 593.9,516.5 C587.8,511.7 579.6,505.5 573.1,501.5 C566.6,497.5 560.8,494.9 554.6,492.3 C548.5,489.7 541.6,486.6 536.2,486 C530.8,485.4 526.3,487 522.3,488.8 C518.2,490.6 514.8,494 511.9,496.9 C509,499.8 506.1,504.6 505,506.2"/>
<path d="M629.6,561 C627.5,558.6 621,551.3 617,546.6 C613,541.9 610.2,537.3 605.4,532.7 C600.6,528.1 594.8,523.7 588.1,518.9 C581.4,514.1 572.1,508.7 565,503.9 C557.9,499.1 550.6,492.9 545.4,490 C540.2,487.1 538.3,486.5 533.9,486.5 C529.5,486.5 523.1,487.9 518.9,490 C514.7,492.1 511.4,495.9 508.5,499.2 C505.6,502.5 502.7,507.9 501.5,509.6"/>
<path d="M622.7,560.4 C620.8,556.2 614.9,540.8 611.2,535 C607.6,529.2 606,529.4 600.8,525.8 C595.6,522.1 586.1,517.3 580,513.1 C573.9,508.9 569.3,504 563.9,500.4 C558.5,496.8 553.4,492.1 547.7,491.2 C542.1,490.3 535.1,492.4 530,495 C524.9,497.6 520.7,502 517,507 C513.3,512 510.8,517.8 508,525 C505.2,532.2 501.3,545.8 500,550"/>
<path d="M633,562 C631.7,562 627.8,562.8 624.9,562 C622.1,561.1 619.1,558.6 616.1,557 C613.2,555.3 610.2,553.6 607.3,552 C604.3,550.3 601.4,548.5 598.4,547.1 C595.3,545.7 592.1,544.7 588.9,543.5 C585.8,542.3 582.6,541.1 579.5,540 C576.3,538.8 573.4,537.5 570.2,536.8 C567,536 563.7,536 560.4,535.7 C557.1,535.4 553.9,535 550.6,534.7 C547.3,534.5 544.1,534.2 540.8,534.1 C537.5,534 534.2,533.8 531,534 C527.8,534.3 524.6,534.7 521.5,535.7 C518.5,536.7 515.3,538.3 512.7,540.2 C510.2,542.1 508.2,544.6 506.2,547.1 C504.2,549.7 502.5,552.5 500.8,555.3 C499.1,558.1 497.6,561.1 496.2,564 C494.7,567 493.3,569.9 492,572.9 C490.7,576 489.6,579.1 488.5,582.2 C487.4,585.3 486.4,588.4 485.4,591.6 C484.5,594.7 483.6,597.9 482.8,601.1 C482,604.2 481.4,607.5 480.9,610.7 C480.3,614 479.8,617.2 479.4,620.5 C478.9,623.7 478.5,627 478.1,630.3 C477.7,633.5 477.4,636.8 477,640.1 C476.6,643.3 476.1,646.6 475.5,649.8 C475,653.1 474.4,656.3 473.7,659.5 C473.1,662.7 472.5,666 471.8,669.2 C471.2,672.4 470.5,675.7 469.9,678.9 C469.2,682.1 468.7,685.3 467.9,688.5 C467.2,691.7 466.3,694.9 465.5,698.1 C464.7,701.3 463.3,704.5 462.9,707.6 C462.5,710.8 462.4,713.9 462.9,717.1 C463.5,720.2 464.7,723.5 466.1,726.4 C467.6,729.3 469.7,731.8 471.7,734.4 C473.7,737 475.9,739.4 478.1,741.9 C480.3,744.3 482.6,746.7 484.8,749.1 C487.1,751.5 489.3,753.9 491.6,756.2 C493.9,758.6 497.5,762 498.6,763.2"/>
<path d="M633,562 C631.7,562.2 628.2,563.7 625.5,563.2 C622.8,562.6 619.8,560.3 616.9,558.8 C614.1,557.3 611.2,555.9 608.4,554.4 C605.5,553 602.7,551.3 599.7,550.2 C596.8,549 593.7,548.2 590.6,547.3 C587.6,546.3 584.6,545.3 581.6,544.4 C578.5,543.5 575.4,542.5 572.3,541.9 C569.2,541.4 566,541.3 562.8,541.1 C559.6,540.8 556.4,540.5 553.2,540.4 C550,540.3 546.8,540.3 543.6,540.4 C540.5,540.5 537.2,540.6 534.1,541.1 C531,541.6 527.9,542.2 525,543.3 C522,544.4 519,545.9 516.5,547.7 C513.9,549.5 511.7,551.8 509.6,554.1 C507.5,556.5 505.5,559 503.7,561.7 C502,564.3 500.6,567.3 499.2,570.1 C497.8,573 496.4,575.9 495.2,578.8 C494,581.8 493,584.8 491.9,587.9 C490.9,590.9 490,594 489.1,597.1 C488.3,600.2 487.4,603.2 486.6,606.3 C485.9,609.5 485.3,612.6 484.7,615.8 C484.2,618.9 483.7,622.1 483.2,625.3 C482.8,628.4 482.4,631.6 482,634.8 C481.6,638 481.3,641.2 480.8,644.3 C480.3,647.5 479.6,650.6 478.9,653.7 C478.3,656.9 477.6,660 476.9,663.1 C476.2,666.3 475.5,669.4 474.8,672.5 C474.1,675.6 473.4,678.8 472.7,681.9 C471.9,685 471.2,688.1 470.5,691.2 C469.7,694.3 468.8,697.4 468,700.5 C467.2,703.6 465.6,706.7 465.5,709.8 C465.3,712.9 466.2,715.9 467,718.9 C467.8,722 468.7,725.2 470.2,728 C471.7,730.8 473.9,733.2 475.9,735.7 C477.8,738.2 479.9,740.7 482,743.1 C484,745.5 486.2,747.9 488.3,750.3 C490.4,752.7 492.5,755.2 494.7,757.5 C496.8,759.9 498.9,762.3 501.2,764.5 C503.5,766.7 507.2,769.8 508.4,770.9"/>
<path d="M633,562 C631.9,562.6 628.7,565.5 626.2,565.6 C623.7,565.7 620.7,563.7 617.9,562.7 C615.1,561.7 612.3,560.7 609.5,559.7 C606.8,558.8 604,557.6 601.2,556.8 C598.4,556 595.4,555.5 592.6,555 C589.7,554.4 586.8,553.9 583.9,553.4 C580.9,553 578,552.4 575.1,552.1 C572.2,551.7 569.2,551.5 566.3,551.4 C563.4,551.2 560.4,551 557.5,551 C554.5,551.1 551.6,551.3 548.7,551.6 C545.7,551.9 542.8,552.2 539.9,552.7 C537,553.3 534.1,553.8 531.4,554.7 C528.6,555.7 525.9,556.9 523.4,558.3 C520.8,559.7 518.5,561.4 516.2,563.2 C513.9,564.9 511.5,566.6 509.6,568.7 C507.6,570.9 506.2,573.4 504.6,575.9 C503,578.3 501.4,580.7 500.1,583.3 C498.8,585.9 497.9,588.7 496.8,591.5 C495.8,594.2 494.7,596.9 493.8,599.7 C492.9,602.5 492.1,605.4 491.4,608.2 C490.7,611.1 490,614 489.4,616.9 C488.8,619.7 488.2,622.6 487.7,625.5 C487.2,628.4 486.8,631.3 486.3,634.3 C485.8,637.2 485.4,640.1 484.9,643 C484.3,645.9 483.5,648.7 482.8,651.6 C482.1,654.5 481.4,657.3 480.7,660.2 C480,663.1 479.3,665.9 478.7,668.8 C478,671.7 477.4,674.6 476.8,677.5 C476.1,680.3 475.4,683.2 474.7,686.1 C474.1,688.9 473.4,691.8 472.7,694.7 C472,697.5 470.7,700.4 470.7,703.3 C470.6,706.1 471.7,708.9 472.3,711.7 C473,714.6 473.5,717.5 474.6,720.2 C475.6,722.9 477.2,725.2 478.6,727.7 C479.9,730.2 481,732.8 482.6,735.2 C484.1,737.7 487,741 487.9,742.2"/>
<path d="M633,562 C631.9,562.8 628.9,566.3 626.4,566.7 C623.9,567.1 620.8,565.2 618,564.4 C615.2,563.6 612.4,562.8 609.6,562 C606.8,561.2 604,560.3 601.2,559.7 C598.4,559 595.5,558.4 592.6,557.9 C589.8,557.5 586.8,557.2 583.9,556.9 C581.1,556.6 578.4,556.1 575.7,555.9 C572.9,555.6 570.2,555.3 567.4,555.2 C564.6,555 561.9,554.9 559.1,554.9 C556.3,555 553.6,555.3 550.8,555.5 C548,555.7 545.2,555.9 542.5,556.3 C539.8,556.6 537,556.9 534.4,557.5 C531.7,558.2 529.1,559.1 526.6,560.2 C524.1,561.3 521.7,562.7 519.4,564.1 C517,565.4 514.5,566.6 512.5,568.3 C510.4,570 508.7,572.1 506.9,574.2 C505.1,576.3 503.3,578.3 501.9,580.6 C500.4,582.9 499.3,585.5 498.2,588 C497,590.5 495.7,592.9 494.7,595.5 C493.8,598.1 493.1,600.8 492.3,603.5 C491.5,606.1 490.8,608.8 490.1,611.5 C489.4,614.2 488.8,616.9 488.2,619.6 C487.7,622.3 487.1,625 486.6,627.7 C486,630.5 485.6,633.2 485.1,635.9 C484.5,638.6 483.9,641.3 483.3,644 C482.7,646.8 482,649.4 481.4,652.2 C480.8,654.9 480.1,657.6 479.5,660.3 C479,663 478.5,665.7 478,668.4 C477.5,671.2 477,673.9 476.4,676.6 C475.9,679.3 475.4,682 474.8,684.8 C474.3,687.5 473.5,690.2 473.2,692.9 C473,695.6 473.2,698.3 473.5,701 C473.7,703.7 474.2,706.5 474.8,709.2 C475.4,711.8 476.2,714.3 477,716.8 C477.7,719.4 478,722.1 479.2,724.5 C480.3,726.9 482.1,729 483.8,731.1 C485.5,733.3 487.2,735.7 489.2,737.4 C491.3,739.1 493.9,740.1 496.2,741.3 C498.6,742.6 502.3,744.4 503.5,745"/>
<path d="M633,562 C632,562.9 629.4,566.6 627.1,567.3 C624.9,568.1 622.1,567 619.5,566.6 C616.9,566.2 614.2,565.4 611.6,564.8 C608.9,564.3 606.3,563.7 603.7,563.1 C601,562.6 598.4,561.9 595.7,561.6 C593,561.2 590.2,561.1 587.6,560.9 C585,560.8 582.5,560.6 580,560.5 C577.4,560.3 574.9,560.1 572.3,560 C569.8,559.9 567.2,559.9 564.7,560 C562.2,560.1 559.6,560.4 557.1,560.6 C554.5,560.8 552,561 549.4,561.3 C546.9,561.5 544.3,561.6 541.8,561.9 C539.3,562.3 536.8,562.7 534.4,563.4 C532,564.2 529.7,565.3 527.3,566.3 C525,567.3 522.6,568.2 520.4,569.4 C518.2,570.7 516.1,572.2 514.2,573.8 C512.2,575.4 510.4,577.3 508.8,579.2 C507.2,581.2 505.9,583.4 504.5,585.5 C503.2,587.7 501.9,589.9 500.8,592.2 C499.7,594.5 498.8,596.9 498,599.3 C497.1,601.7 496.3,604.1 495.5,606.5 C494.7,609 494.1,611.4 493.4,613.9 C492.7,616.3 492.1,618.8 491.6,621.3 C491,623.8 490.6,626.3 490,628.8 C489.5,631.3 489,633.8 488.5,636.3 C487.9,638.8 487.4,641.3 486.8,643.8 C486.3,646.3 485.7,648.8 485.2,651.3 C484.7,653.8 484.3,656.3 483.9,658.8 C483.5,661.3 483,663.8 482.6,666.3 C482.2,668.8 481.7,671.4 481.3,673.9 C480.9,676.4 480.4,678.9 480,681.4 C479.6,683.9 478.8,686.4 478.7,689 C478.5,691.5 478.9,694 479,696.6 C479.2,699.1 479.4,701.7 479.6,704.2 C479.8,706.8 479.4,709.5 480.2,711.8 C480.9,714.2 482.4,716.2 483.9,718.2 C485.3,720.2 486.8,722.6 488.8,724 C490.7,725.5 493.2,726.1 495.5,726.8 C497.9,727.5 501.7,727.9 502.9,728.2"/>
<path d="M633,562 C632,562.8 629.4,566.1 627.3,566.9 C625.1,567.7 622.6,567.2 620,566.9 C617.5,566.6 614.9,565.7 612.3,565.1 C609.7,564.5 607.1,563.9 604.5,563.4 C601.9,562.8 599.3,562.1 596.7,561.7 C594,561.3 591.3,561.1 588.8,560.9 C586.2,560.7 583.8,560.8 581.3,560.7 C578.8,560.6 576.3,560.5 573.8,560.5 C571.3,560.5 568.8,560.4 566.3,560.5 C563.8,560.6 561.3,561 558.9,561.3 C556.4,561.6 553.9,561.8 551.4,562.1 C548.9,562.4 546.4,562.6 544,562.9 C541.5,563.2 539,563.4 536.6,564.1 C534.3,564.8 532,565.9 529.8,567 C527.5,568 525.2,569.1 523.1,570.3 C520.9,571.5 518.7,572.7 516.8,574.3 C514.9,575.8 513.3,577.8 511.7,579.7 C510.1,581.6 508.6,583.6 507.2,585.7 C505.8,587.8 504.6,590 503.5,592.2 C502.3,594.4 501.3,596.7 500.4,599 C499.4,601.3 498.6,603.7 497.9,606 C497.1,608.4 496.3,610.8 495.6,613.2 C495,615.6 494.4,618 493.9,620.4 C493.3,622.9 492.9,625.3 492.4,627.8 C491.9,630.2 491.4,632.7 490.8,635.1 C490.3,637.6 489.8,640 489.2,642.4 C488.7,644.9 488.1,647.3 487.6,649.8 C487.1,652.2 486.7,654.7 486.2,657.1 C485.7,659.6 485.2,662 484.7,664.5 C484.2,666.9 483.7,669.3 483.3,671.8 C482.8,674.2 482.3,676.7 481.8,679.1 C481.3,681.6 480.5,684 480.3,686.5 C480.1,688.9 480.5,691.4 480.7,693.9 C480.8,696.4 481.1,698.9 481.4,701.4 C481.6,703.9 481.3,706.5 482,708.8 C482.7,711.1 484.2,713.2 485.5,715.2 C486.9,717.2 488.3,719.6 490.1,721.1 C491.9,722.6 494,723.6 496.2,724.2 C498.4,724.7 502.3,724.4 503.5,724.4"/>
<path d="M633,562 C632.1,563 629.5,566.4 627.5,567.8 C625.4,569.1 623.1,569.7 620.7,570 C618.3,570.3 615.5,569.8 613,569.7 C610.4,569.6 607.8,569.5 605.2,569.4 C602.7,569.3 600.1,569.1 597.5,569.2 C594.9,569.3 592.3,569.6 589.8,569.8 C587.2,570 584.7,570.1 582.1,570.3 C579.5,570.4 577,570.6 574.4,570.7 C571.9,570.9 569.3,570.9 566.8,571.2 C564.2,571.4 561.7,571.9 559.1,572.2 C556.6,572.6 554,572.8 551.5,573.3 C549,573.8 546.6,574.6 544.2,575.3 C541.8,576 539.2,576.4 536.9,577.3 C534.6,578.3 532.6,579.7 530.5,581.1 C528.4,582.5 526.4,584.1 524.4,585.7 C522.4,587.2 520.3,588.6 518.6,590.4 C516.8,592.2 515.4,594.4 513.9,596.5 C512.5,598.6 511.1,600.7 509.9,602.9 C508.7,605.1 507.7,607.5 506.7,609.8 C505.7,612.1 504.7,614.5 503.9,616.9 C503.1,619.3 502.4,621.8 501.7,624.2 C501,626.7 500.3,629.2 499.7,631.7 C499.2,634.1 498.7,636.7 498.2,639.2 C497.7,641.7 497.3,644.2 496.9,646.8 C496.4,649.3 495.9,651.8 495.5,654.3 C495,656.9 494.5,659.4 494,661.9 C493.5,664.4 493,666.9 492.6,669.5 C492.2,672 491.8,674.5 491.5,677 C491.2,679.6 490.9,682.1 490.6,684.6 C490.4,687.1 490.1,689.7 489.8,692.2 C489.5,694.7 489.1,697.3 488.9,699.8 C488.7,702.3 488.3,704.8 488.3,707.3 C488.4,709.8 488.7,712.4 489.2,714.9 C489.6,717.4 490.4,719.7 491.1,722.1 C491.8,724.5 492.2,727.1 493.4,729.2 C494.5,731.2 496.3,732.7 498.1,734.4 C499.8,736 501.7,737.7 503.7,738.9 C505.7,740.2 507.7,741.3 510,741.7 C512.4,742.2 516.4,741.7 517.7,741.6"/>
<path d="M633,562 C632,562.9 629.2,566.2 626.9,567.4 C624.7,568.7 622.2,569.3 619.5,569.6 C616.9,569.9 613.9,569.3 611.1,569.1 C608.3,568.9 605.5,568.7 602.7,568.6 C599.9,568.4 597,568.2 594.2,568.3 C591.4,568.3 588.6,568.6 585.9,568.8 C583.1,569 580.5,569.4 577.8,569.7 C575.2,569.9 572.5,570.2 569.8,570.5 C567.1,570.8 564.5,571.1 561.8,571.4 C559.1,571.7 556.5,572.2 553.8,572.6 C551.1,573 548.3,573 545.8,573.7 C543.2,574.5 540.9,575.8 538.5,576.9 C536.1,577.9 533.5,578.7 531.2,580 C528.9,581.4 527,583.1 525,584.8 C523,586.5 521,588.5 519.2,590.4 C517.4,592.3 515.6,594.2 514,596.3 C512.4,598.4 510.8,600.6 509.5,603 C508.2,605.3 507.2,607.7 506.2,610.2 C505.2,612.7 504.2,615.2 503.4,617.7 C502.6,620.2 502,622.8 501.3,625.4 C500.7,628 500.1,630.7 499.6,633.3 C499,635.9 498.4,638.5 498,641.2 C497.5,643.8 497,646.5 496.6,649.1 C496.2,651.8 495.8,654.5 495.3,657.1 C494.9,659.8 494.5,662.4 494.1,665.1 C493.6,667.8 493.2,670.4 492.8,673.1 C492.3,675.7 491.7,678.4 491.4,681 C491.1,683.7 491.1,686.4 491,689 C490.9,691.7 490.9,694.4 490.8,697 C490.8,699.7 490.8,702.4 490.7,705.1 C490.7,707.7 490.6,710.4 490.6,713.1 C490.7,715.7 490.8,718.4 491.1,721 C491.4,723.6 491.7,726.4 492.5,728.9 C493.2,731.4 494.4,733.7 495.6,736.1 C496.7,738.4 498.7,741.8 499.4,742.9"/>
<path d="M633,562 C632.1,563 629.4,566.5 627.4,568.2 C625.4,569.9 623.3,571.5 620.9,572.3 C618.4,573.1 615.5,572.9 612.9,573.3 C610.2,573.6 607.6,573.9 604.9,574.2 C602.3,574.6 599.6,574.9 597,575.4 C594.3,575.9 591.7,576.7 589.1,577.3 C586.5,577.8 583.8,578.3 581.1,578.8 C578.5,579.3 575.8,579.8 573.1,580.3 C570.5,580.8 567.8,581.4 565.2,581.9 C562.5,582.4 559.8,582.8 557.2,583.3 C554.5,583.7 551.7,583.9 549.2,584.6 C546.6,585.4 544.2,586.8 541.8,588 C539.5,589.2 537,590.4 534.8,591.9 C532.6,593.5 530.6,595.3 528.7,597.2 C526.7,599 524.8,600.9 523.1,603 C521.4,605.1 520,607.4 518.5,609.7 C517,611.9 515.2,614 514,616.4 C512.7,618.8 512,621.4 511,624 C510.1,626.5 509,629 508.3,631.6 C507.6,634.2 507.2,636.9 506.6,639.5 C506,642.1 505.4,644.8 504.9,647.4 C504.4,650.1 504.1,652.8 503.7,655.5 C503.4,658.2 503,660.8 502.7,663.5 C502.3,666.2 501.9,668.9 501.6,671.6 C501.2,674.3 500.8,677 500.4,679.6 C500.1,682.3 499.7,685 499.3,687.7 C498.9,690.4 498.4,693.1 498.2,695.8 C497.9,698.4 497.9,701.1 497.9,703.8 C497.8,706.5 497.9,709.2 498,711.9 C498,714.6 498,717.3 498,720 C498.1,722.7 498,725.4 498.1,728.1 C498.2,730.8 498.5,733.5 498.8,736.1 C499.1,738.8 499.2,741.6 499.8,744.1 C500.4,746.6 501.9,750.1 502.3,751.3"/>
<path d="M633,562 C632.1,562.9 629.5,565.8 627.6,567.4 C625.7,569 623.9,570.9 621.6,571.7 C619.4,572.6 616.5,572.3 614,572.5 C611.4,572.8 608.9,573 606.3,573.3 C603.8,573.6 601.2,573.8 598.7,574.2 C596.2,574.6 593.7,575.1 591.1,575.6 C588.6,576.2 586.1,576.8 583.6,577.4 C581,578 578.5,578.6 576,579.2 C573.5,579.8 570.9,580.5 568.4,581 C565.9,581.6 563.3,582 560.8,582.5 C558.2,583 555.6,583.4 553.1,584 C550.6,584.7 548.1,585.4 545.8,586.4 C543.4,587.5 541.1,588.7 539,590.1 C536.8,591.4 534.8,593.1 532.8,594.7 C530.8,596.4 528.9,598.1 527.1,600 C525.4,601.9 523.9,604.1 522.4,606.1 C520.8,608.2 519.1,610.1 517.7,612.4 C516.4,614.6 515.6,617.1 514.5,619.4 C513.4,621.8 512.3,624.1 511.4,626.5 C510.5,629 510,631.5 509.4,634 C508.7,636.6 507.8,639 507.3,641.6 C506.8,644.1 506.6,646.7 506.3,649.3 C505.9,651.9 505.6,654.4 505.3,657 C504.9,659.6 504.6,662.2 504.3,664.8 C503.9,667.3 503.5,669.9 503.2,672.5 C502.8,675.1 502.5,677.6 502.1,680.2 C501.7,682.8 501.3,685.4 501,687.9 C500.7,690.5 500.5,693.1 500.4,695.7 C500.2,698.2 500,700.8 499.9,703.4 C499.7,706 499.5,708.6 499.4,711.2 C499.2,713.7 499,716.3 498.9,718.9 C498.8,721.5 498.8,724.1 498.8,726.6 C498.8,729.2 498.7,731.8 498.8,734.3 C498.9,736.8 499,739.2 499.5,741.6 C500.1,744 501.2,746.5 502.3,748.6 C503.4,750.7 505,752.5 506.3,754.3 C507.7,756.2 509.9,758.8 510.6,759.7"/>
<path d="M633,562 C632.2,562.8 629.9,565.2 628.3,566.7 C626.7,568.3 625.4,570.3 623.6,571.4 C621.7,572.4 619.4,572.7 617.3,573.2 C615.1,573.7 612.9,574.1 610.7,574.5 C608.5,574.9 606.3,575.3 604.1,575.8 C601.9,576.3 599.8,576.6 597.5,577.3 C595.3,577.9 592.9,578.9 590.6,579.7 C588.3,580.5 586,581.3 583.7,582.1 C581.4,582.9 579.1,583.8 576.8,584.5 C574.5,585.3 572.3,586.1 569.9,586.8 C567.6,587.4 565.1,587.8 562.8,588.3 C560.4,588.9 557.9,589.3 555.6,589.9 C553.3,590.6 551,591.3 548.9,592.4 C546.7,593.5 544.8,595.1 542.8,596.5 C540.8,597.9 538.7,599.2 536.9,600.8 C535.2,602.4 533.7,604.4 532.1,606.3 C530.5,608.1 528.8,609.9 527.4,611.9 C526,613.9 524.9,616.1 523.7,618.2 C522.6,620.3 521.3,622.4 520.3,624.7 C519.4,626.9 518.7,629.2 518,631.6 C517.2,633.9 516.5,636.2 516,638.6 C515.4,640.9 514.9,643.4 514.6,645.8 C514.4,648.2 514.4,650.6 514.3,653 C514.2,655.5 514.1,657.9 514,660.3 C513.9,662.8 513.8,665.2 513.6,667.6 C513.5,670 513.4,672.5 513.3,674.9 C513.1,677.3 513,679.7 512.9,682.2 C512.8,684.6 512.6,687 512.6,689.4 C512.5,691.9 512.3,694.3 512.3,696.7 C512.3,699.1 512.2,701.5 512.5,703.8 C512.8,706.1 513.4,708.3 513.9,710.6 C514.4,712.8 514.8,715.1 515.3,717.3 C515.8,719.5 516.4,721.7 517.1,723.8 C517.7,726 518.2,728.1 519,730.2 C519.9,732.3 521.1,734.3 522.2,736.4 C523.3,738.5 524.6,740.5 525.7,742.6 C526.9,744.7 528,746.8 529.2,748.9 C530.4,751 531.6,753 532.8,755.1 C534,757.2 535.8,760.3 536.4,761.3"/>
<path d="M633,562 C632.3,562.7 630.2,564.9 628.7,566.4 C627.3,567.9 626,569.5 624.5,570.8 C622.9,572.2 621.4,573.4 619.6,574.4 C617.9,575.3 616,576 614.1,576.8 C612.2,577.5 610.3,578.2 608.4,579 C606.5,579.7 604.6,580.3 602.7,581.2 C600.7,582 598.7,582.9 596.7,583.8 C594.7,584.7 592.7,585.6 590.7,586.5 C588.8,587.5 586.8,588.4 584.8,589.4 C582.9,590.3 581,591.4 579,592.2 C577,593.1 574.9,593.7 572.9,594.5 C570.9,595.2 568.8,596 566.8,596.7 C564.8,597.4 562.6,597.9 560.6,598.8 C558.6,599.6 556.8,600.7 554.8,601.6 C552.9,602.6 550.9,603.4 549.1,604.5 C547.3,605.7 545.7,607.1 544.1,608.5 C542.5,609.9 540.9,611.5 539.4,613 C537.9,614.6 536.4,616.1 535.1,617.8 C533.9,619.6 532.8,621.5 531.7,623.4 C530.6,625.2 529.6,627.1 528.7,629.1 C527.8,631.1 527.1,633.1 526.4,635.1 C525.7,637.2 524.9,639.2 524.4,641.3 C523.8,643.4 523.5,645.5 523.4,647.6 C523.2,649.7 523.2,652 523.2,654.1 C523.1,656.3 523,658.5 523,660.6 C522.9,662.8 522.7,665 522.8,667.2 C522.9,669.3 523.1,671.5 523.3,673.7 C523.6,675.8 523.9,678 524.2,680.1 C524.5,682.3 524.7,684.5 525.1,686.6 C525.5,688.7 525.8,690.9 526.5,692.9 C527.1,694.9 528.2,696.9 529,698.8 C529.8,700.8 530.5,702.9 531.3,704.8 C532.1,706.8 532.9,708.7 533.8,710.6 C534.7,712.4 535.8,714.2 536.9,716 C538,717.9 539.2,719.6 540.4,721.4 C541.6,723.2 542.7,725.1 544,726.8 C545.3,728.5 546.9,730 548.4,731.7 C549.8,733.3 551.3,734.9 552.7,736.5 C554.2,738.2 556.3,740.6 557.1,741.4"/>
<path d="M633,562 C632.2,562.7 629.9,564.6 628.3,565.9 C626.8,567.2 625.2,568.5 623.7,569.9 C622.1,571.2 620.7,572.6 619,573.8 C617.3,574.9 615.5,575.9 613.6,576.8 C611.8,577.7 609.9,578.5 608,579.4 C606.1,580.3 604.1,581.1 602.3,582 C600.5,582.9 598.8,584 597,585 C595.2,586 593.5,586.9 591.7,588 C590,589 588.3,590.1 586.6,591.2 C584.8,592.3 583.1,593.3 581.4,594.4 C579.7,595.5 577.9,596.6 576.2,597.6 C574.5,598.7 572.8,599.9 571.1,600.9 C569.3,601.9 567.5,602.9 565.7,603.7 C563.8,604.5 561.9,605.1 560,605.8 C558.1,606.6 556.1,607.1 554.4,608.1 C552.6,609.1 551.1,610.4 549.6,611.7 C548,612.9 546.4,614.2 545,615.7 C543.6,617.1 542.4,618.6 541.4,620.3 C540.3,621.9 539.4,623.8 538.4,625.6 C537.5,627.4 536.5,629.1 535.6,630.9 C534.8,632.7 534.2,634.6 533.5,636.5 C532.9,638.4 532.3,640.4 531.7,642.3 C531.1,644.2 530.3,646.1 529.9,648.1 C529.6,650.1 529.6,652.1 529.4,654.2 C529.3,656.2 529.1,658.2 528.9,660.2 C528.8,662.3 528.5,664.3 528.5,666.3 C528.4,668.3 528.6,670.3 528.7,672.4 C528.8,674.4 529,676.4 529.2,678.4 C529.3,680.4 529.5,682.4 529.7,684.4 C529.8,686.4 530,688.4 530.1,690.4 C530.3,692.4 530.5,694.4 530.6,696.4 C530.8,698.5 530.9,700.5 531.1,702.5 C531.4,704.5 531.8,706.5 532.3,708.4 C532.7,710.4 533.2,712.4 533.7,714.3 C534.3,716.3 534.9,718.2 535.7,720.1 C536.4,722 537.1,723.9 538.2,725.6 C539.2,727.3 540.7,728.7 542,730.3 C543.3,731.9 544.5,733.5 545.8,735.1 C547.1,736.6 549,739 549.6,739.8"/>
<path d="M633,562 C632.3,562.8 630.1,565 628.6,566.5 C627.1,568.1 625.6,569.6 624.2,571.1 C622.7,572.6 621.2,574.2 619.7,575.6 C618.2,577.1 616.7,578.5 615.1,579.9 C613.5,581.2 611.8,582.5 610.1,583.8 C608.4,585.1 606.7,586.4 605.1,587.6 C603.5,588.9 601.9,590 600.3,591.2 C598.7,592.4 597.1,593.5 595.5,594.7 C593.9,595.9 592.3,597.2 590.8,598.4 C589.2,599.6 587.6,600.8 586,602 C584.5,603.3 582.9,604.5 581.3,605.7 C579.8,606.9 578.2,608.2 576.6,609.4 C575,610.6 573.4,611.8 571.8,612.9 C570.2,614 568.5,615 566.8,616 C565.2,617.1 563.4,618.1 561.9,619.3 C560.3,620.4 558.8,621.8 557.3,623.1 C555.8,624.3 554.1,625.5 552.8,627 C551.6,628.5 550.7,630.3 549.7,632 C548.8,633.8 547.8,635.5 547,637.3 C546.1,639.1 545.2,640.9 544.7,642.8 C544.2,644.7 544.1,646.7 543.8,648.7 C543.5,650.7 543.2,652.6 542.9,654.6 C542.6,656.6 542.2,658.5 542,660.5 C541.8,662.5 541.8,664.5 541.8,666.5 C541.8,668.5 541.9,670.5 541.9,672.4 C542,674.4 542,676.4 542.1,678.4 C542.1,680.4 542.1,682.4 542.2,684.4 C542.2,686.4 542.3,688.4 542.3,690.3 C542.3,692.3 542.4,694.3 542.4,696.3 C542.5,698.3 542.5,700.3 542.6,702.3 C542.6,704.3 542.6,706.3 542.7,708.2 C542.8,710.2 542.8,712.2 543,714.2 C543.3,716.1 543.8,718.1 544.2,720 C544.5,722 544.7,724 545.3,725.9 C545.8,727.8 546.6,729.6 547.4,731.5 C548.2,733.3 549,735.1 550,736.8 C550.9,738.5 552.1,740.2 553.1,741.9 C554.1,743.6 555.2,745.3 556.2,747 C557.3,748.7 558.8,751.2 559.4,752"/>
<path d="M625.3,583.5 C628.4,582.6 637.8,579 644,578 C650.2,577 657.7,577.2 662.4,577.7 C667.1,578.2 670.4,579.4 672.3,581 C674.2,582.6 674.5,585.7 674,587.6 C673.5,589.5 671.8,591.7 669,592.5 C666.2,593.3 660.2,593 657.5,592.5 C654.8,592 654.7,590 652.5,589.2 C650.3,588.4 646.8,588.2 644.3,587.6 C641.8,587 640.4,586.3 637.7,585.9 C635,585.5 629.6,585.1 628,585"/>
<path d="M634,570 C635,571.7 638.7,576.7 640,580 C641.3,583.3 642.2,587 642,590 C641.8,593 640.7,596.3 639,598 C637.3,599.7 634.8,600.3 632,600 C629.2,599.7 624.3,598 622,596 C619.7,594 617.5,591 618,588 C618.5,585 623.8,579.7 625,578"/>
<path d="M628,572 C625.3,574.2 616.7,581.2 612,585 C607.3,588.8 604.3,592 600,595 C595.7,598 590.7,600.2 586,603 C581.3,605.8 574.3,610.5 572,612"/>
<path d="M630,575 C628,577.5 622,586.2 618,590 C614,593.8 610.3,595.7 606,598 C601.7,600.3 594.3,603 592,604"/>
</g>
<g stroke="#cdcdcd" stroke-width="1.2">
<path d="M477.7,742.7 C479.8,744.8 485.4,750.7 490.2,755.3 C495,759.9 503.8,767.9 506.5,770.4"/>
<path d="M485,750 C487.5,753 496.2,763.8 500,768 C503.8,772.2 506.7,773.8 508,775"/>
<path d="M527.9,766.6 L541.7,769.1"/>
<path d="M502.8,757.8 L507.8,771.6"/>
<path d="M559.3,756.5"/>
<path d="M498.6,763.2 L505.9,769.8"/>
<path d="M508.4,770.9"/>
<path d="M487.9,742.2 C488.8,743.3 491.5,746.9 493.6,748.9 C495.6,751 497.9,752.7 500.2,754.5 C502.4,756.2 506.1,758.6 507.3,759.4"/>
<path d="M499.4,742.9 C500.4,743.6 503.4,745.7 505.5,746.9 C507.7,748.1 510.1,749.1 512.5,750 C514.9,750.9 517.3,751.7 519.9,752.2 C522.4,752.7 526.5,752.8 527.8,753"/>
<path d="M502.3,751.3 C503,752.4 504.7,756.3 506.3,758.1 C508,759.9 510.2,761 512.2,762.3 C514.2,763.6 516.4,764.7 518.5,765.9 C520.6,767 522.7,768.2 524.9,769.3 C527,770.4 530.2,772.1 531.3,772.6"/>
<path d="M510.6,759.7 C511.3,760.6 513.5,763.2 515,764.9 C516.5,766.7 518.7,769.3 519.4,770.2"/>
<path d="M559.4,752"/>
</g>
<g stroke="#e4dc5a" stroke-width="1.1">
<path d="M470,613.9 C474.2,615.2 490,620.2 495.4,621.9 C500.8,623.6 501.1,623.8 502.3,624.2"/>
<path d="M457.3,655.4 C460.2,656.9 468.2,661.3 474.6,664.6 C481,667.9 491.9,673.3 495.4,675"/>
<path d="M463.1,650.8 L472.3,676.2"/>
<path d="M520.8,634.6 L539.3,653.1"/>
<path d="M511.6,692.4 C514.7,695.9 524.6,706.2 530,713.1 C535.4,720 541.6,730.5 543.9,734"/>
<path d="M480.4,692.4 L495.4,724.7"/>
<path d="M490.5,549 L488.5,557"/>
</g>
<g stroke="#9a9418" stroke-width="1.1">
<path d="M479.3,610.4 C478.9,612.5 477.5,617.1 476.9,623.1 C476.3,629.1 476.4,637.6 475.8,646.2 C475.2,654.9 474.1,667.7 473.5,675 C472.9,682.3 472.2,687.5 472,690"/>
<path d="M478.1,690 L496.6,692.4"/>
<path d="M483,676 L498,684"/>
</g>
<path d="M641.3,557.7 C638,559.6 627.3,565.6 621.5,569.2 C615.7,572.8 610.5,575.8 606.6,579.1 C602.8,582.4 600.3,585.1 598.4,589 C596.5,592.9 595.4,597.8 595.1,602.2 C594.8,606.6 595.6,611.3 596.7,615.4 C597.8,619.5 599.8,625.1 601.7,627 C603.6,628.9 605.8,626.5 608.3,627 C610.8,627.5 614.3,628.6 616.5,630.3 C618.7,631.9 621.2,635.1 621.5,636.9 C621.8,638.7 620.1,640.7 618.2,641 C616.3,641.3 612.2,640 609.9,638.5 C607.6,637 606.1,633 604.2,631.9 C602.3,630.8 599.9,631.1 598.4,631.9 C596.9,632.7 597,634.7 595.1,636.9 C593.2,639.1 589.6,642.1 586.9,645.1 C584.1,648.1 581.1,650.6 578.6,655 C576.1,659.4 573.6,665.7 572,671.5 C570.4,677.3 568.9,682.8 568.7,689.6 C568.5,696.5 569,705.6 570.6,712.6 C572.2,719.6 575.2,725.3 578.1,731.4 C581,737.5 583.4,742.5 588.2,749 C593,755.5 603.9,766.8 607,770.4" stroke="#800080" stroke-width="3.6"/>
<path d="M607,770.4 C609.5,771.6 618.3,777.1 622.1,777.9 C625.9,778.7 628.6,777.9 629.6,775.4 C630.6,772.9 630,767.8 628.3,762.8 C626.6,757.8 623.4,751.5 619.6,745.2 C615.8,738.9 610.5,731.3 605.7,725.2 C600.9,719.1 595.7,714.7 590.7,708.8 C585.7,702.9 578.4,694.3 575.6,690 C572.8,685.7 576.1,687.1 573.9,683.1 C571.7,679.1 566.4,671.2 562.4,665.8 C558.4,660.4 554.3,655.2 549.7,650.8 C545.1,646.4 539.5,642.5 534.7,639.2 C529.9,635.9 525.4,633.4 520.8,631.2 C516.2,629 511.8,627.1 507,626 C502.2,624.9 496.7,624.5 491.9,624.8 C487.1,625.1 482.5,625.5 478.1,627.7 C473.7,629.9 468.9,634.1 465.4,638.1 C461.9,642.1 458.6,649.7 457.3,652" stroke="#ee62ee" stroke-width="4"/>
<path d="M641.8,557.9 C639.8,558.2 633.6,558.2 629.5,559.6 C625.4,561 621.2,563.7 617.1,566.2 C613,568.7 608.1,571.4 604.7,574.4 C601.3,577.4 598.4,581 596.5,584.3 C594.6,587.6 593.2,591.1 593.2,594.2 C593.2,597.4 594.6,600.6 596.5,603.2 C598.4,605.8 601.7,608.1 604.7,609.8 C607.7,611.4 612.5,613.2 614.6,613.1 C616.7,613 616.6,611.3 617.1,609 C617.6,606.7 618.3,602.4 617.9,599.1 C617.5,595.8 616.2,592.8 614.6,589.2 C613,585.6 610.8,580.9 608,577.7 C605.2,574.6 601.4,572.1 598.1,570.3 C594.8,568.5 591.2,567.9 588.2,567 C585.2,566.1 583.2,565.2 580,564.9 C576.8,564.6 573.3,564.6 568.7,565.1 C564.1,565.6 557.4,565.5 552.2,567.6 C547,569.7 541.8,573.1 537.4,577.5 C533,581.9 529.4,588.2 525.8,594 C522.2,599.8 519,605.8 516,612.1 C513,618.4 510.2,625.9 507.7,631.9 C505.2,637.9 502.8,642.9 501.1,648.4 C499.5,653.9 498.4,659.9 497.8,664.9 C497.2,669.9 498.5,676.3 497.7,678.5 C496.9,680.7 494.9,678 493,678 C491.1,678 487.7,677.6 486.2,678.5 C484.7,679.4 484.5,681.6 483.9,683.1 C483.3,684.6 483.9,686.9 482.7,687.7 C481.5,688.5 478.7,688.5 476.9,687.7 C475.1,686.9 472.1,684.6 471.7,683.1 C471.3,681.6 473.3,679.6 474.6,678.5 C475.9,677.4 477.8,675.8 479.3,676.2 C480.9,676.6 482.4,679.5 483.9,680.8 C485.3,682.1 486.3,684 488,684 C489.7,684 492,680.4 494,681 C496,681.6 498.4,685.4 500,687.7 C501.6,690 502.2,693.4 503.5,694.7 C504.8,696.1 506.7,696.4 507.5,695.8 C508.3,695.2 508.6,692.9 508.1,691.2 C507.6,689.5 505.6,687.1 504.6,685.4 C503.6,683.7 501.1,682.5 502.3,680.8 C503.5,679.1 508.9,677.7 511.6,675 C514.3,672.3 516.8,668.8 518.5,664.6 C520.2,660.4 521.6,654.6 522,649.6 C522.4,644.6 522,640.4 520.8,634.6 C519.6,628.8 516.5,621 515,615 C513.5,609 513.1,605.7 511.8,598.9 C510.4,592.1 508.4,582.4 506.9,574.2 C505.4,566 504,557.3 502.8,549.5 C501.6,541.7 500.1,530.9 499.5,527.2" stroke="#000" stroke-width="4.2"/>
</g>
<rect x="80.5" y="89.5" width="1541" height="962" fill="none" stroke="#000" stroke-width="1.15"/>
<text x="63" y="316.5" font-size="23" font-weight="bold" stroke="#000" stroke-width="0.4" text-anchor="end" textLength="52.5" lengthAdjust="spacingAndGlyphs" >10°S</text>
<text x="63" y="544.7" font-size="23" font-weight="bold" stroke="#000" stroke-width="0.4" text-anchor="end" textLength="52.5" lengthAdjust="spacingAndGlyphs" >20°S</text>
<text x="63" y="788" font-size="23" font-weight="bold" stroke="#000" stroke-width="0.4" text-anchor="end" textLength="52.5" lengthAdjust="spacingAndGlyphs" >30°S</text>
<text x="300.1" y="1082.5" font-size="23" font-weight="bold" stroke="#000" stroke-width="0.4" text-anchor="middle" textLength="51.5" lengthAdjust="spacingAndGlyphs" >40°E</text>
<text x="740.4" y="1082.5" font-size="23" font-weight="bold" stroke="#000" stroke-width="0.4" text-anchor="middle" textLength="51.5" lengthAdjust="spacingAndGlyphs" >60°E</text>
<text x="1180.7" y="1082.5" font-size="23" font-weight="bold" stroke="#000" stroke-width="0.4" text-anchor="middle" textLength="51.5" lengthAdjust="spacingAndGlyphs" >80°E</text>
<text x="1620" y="1082.5" font-size="23" font-weight="bold" stroke="#000" stroke-width="0.4" text-anchor="middle" textLength="64.5" lengthAdjust="spacingAndGlyphs" >100°E</text>
<rect x="1274.5" y="874.5" width="339.0" height="169.0" rx="2.5" fill="#fff" fill-opacity="0.8" stroke="#000" stroke-width="1.2"/>
<path d="M1281,887.5 H1315" stroke="#696969" stroke-width="1.1"/>
<text x="1327.5" y="893.3" font-size="16.4" textLength="127.5" lengthAdjust="spacingAndGlyphs" >No Interception</text>
<path d="M1281,910.8 H1315" stroke="#ff4500" stroke-width="1.1"/>
<text x="1327.5" y="916.6" font-size="16.4" textLength="278" lengthAdjust="spacingAndGlyphs" >Interception from Named cyclone</text>
<path d="M1281,934.1 H1315" stroke="#808000" stroke-width="1.1"/>
<text x="1327.5" y="939.9" font-size="16.4" textLength="219" lengthAdjust="spacingAndGlyphs" >Interception from Trochoid</text>
<path d="M1281,957.5 H1315" stroke="#008000" stroke-width="1.1"/>
<text x="1327.5" y="963.3" font-size="16.4" textLength="187.5" lengthAdjust="spacingAndGlyphs" >Interception from both</text>
<path d="M1279,980.4 H1316" stroke="#800080" stroke-width="4.2"/>
<text x="1328.5" y="986.5" font-size="16.4" textLength="43.5" lengthAdjust="spacingAndGlyphs" >HRES</text>
<path d="M1279,1003.6 H1316" stroke="#000" stroke-width="4.2"/>
<text x="1327.5" y="1009.7" font-size="16.4" textLength="202" lengthAdjust="spacingAndGlyphs" >Analysis | 238h duration</text>
<path d="M1294.4,1026.2 A4.4,4.4 0 1 0 1302.3,1027" fill="none" stroke="#000" stroke-width="2.6"/>
<path d="M1298.2,1023.4 H1304.2 V1026 H1300.9 V1029.2 H1298.2Z" fill="#000"/>
<text x="1327.5" y="1034.6" font-size="16.4" textLength="236.5" lengthAdjust="spacingAndGlyphs" >TC obs. for analysis duration</text>
<rect x="1665.5" y="892.6" width="20.0" height="47.5" fill="#d6e6f4"/>
<rect x="1665.5" y="845.8" width="20.0" height="47.5" fill="#cadef0"/>
<rect x="1665.5" y="798.9" width="20.0" height="47.5" fill="#bfd8ed"/>
<rect x="1665.5" y="752" width="20.0" height="47.5" fill="#abd0e6"/>
<rect x="1665.5" y="705.1" width="20.0" height="47.5" fill="#97c6df"/>
<rect x="1665.5" y="658.2" width="20.0" height="47.5" fill="#7fb9da"/>
<rect x="1665.5" y="611.4" width="20.0" height="47.5" fill="#6aaed6"/>
<rect x="1665.5" y="564.5" width="20.0" height="47.5" fill="#58a1cf"/>
<rect x="1665.5" y="517.6" width="20.0" height="47.5" fill="#4a98c9"/>
<rect x="1665.5" y="470.8" width="20.0" height="47.5" fill="#3b8bc2"/>
<rect x="1665.5" y="423.9" width="20.0" height="47.5" fill="#2e7ebc"/>
<rect x="1665.5" y="377" width="20.0" height="47.5" fill="#2171b5"/>
<rect x="1665.5" y="330.1" width="20.0" height="47.5" fill="#1664ab"/>
<rect x="1665.5" y="283.2" width="20.0" height="47.5" fill="#0d57a1"/>
<rect x="1665.5" y="236.4" width="20.0" height="47.5" fill="#08488e"/>
<rect x="1665.5" y="189.5" width="20.0" height="47.5" fill="#08336e"/>
<rect x="1665.5" y="189.5" width="20.0" height="750.0" fill="none" stroke="#000" stroke-width="1.2"/>
<path d="M1685.5,939.5 h5" stroke="#000" stroke-width="1.1"/>
<text x="1695.8" y="945" font-size="15" textLength="7.8" lengthAdjust="spacingAndGlyphs" >0</text>
<path d="M1685.5,822.3 h5" stroke="#000" stroke-width="1.1"/>
<text x="1695.8" y="827.8" font-size="15" textLength="7.8" lengthAdjust="spacingAndGlyphs" >5</text>
<path d="M1685.5,705.1 h5" stroke="#000" stroke-width="1.1"/>
<text x="1695.8" y="710.6" font-size="15" textLength="15.5" lengthAdjust="spacingAndGlyphs" >10</text>
<path d="M1685.5,587.9 h5" stroke="#000" stroke-width="1.1"/>
<text x="1695.8" y="593.4" font-size="15" textLength="15.5" lengthAdjust="spacingAndGlyphs" >15</text>
<path d="M1685.5,470.8 h5" stroke="#000" stroke-width="1.1"/>
<text x="1695.8" y="476.2" font-size="15" textLength="15.5" lengthAdjust="spacingAndGlyphs" >20</text>
<path d="M1685.5,353.6 h5" stroke="#000" stroke-width="1.1"/>
<text x="1695.8" y="359.1" font-size="15" textLength="15.5" lengthAdjust="spacingAndGlyphs" >25</text>
<path d="M1685.5,236.4 h5" stroke="#000" stroke-width="1.1"/>
<text x="1695.8" y="241.9" font-size="15" textLength="15.5" lengthAdjust="spacingAndGlyphs" >30</text>
<text transform="translate(1736.3,608.8) rotate(-90)" x="0" y="0" font-size="19.2" font-weight="bold" text-anchor="middle" textLength="632" lengthAdjust="spacingAndGlyphs">Named cyclones forecast - Number of GEFS within 120km</text>
<text x="864.5" y="1121" font-size="16.4" font-weight="bold" stroke="#000" stroke-width="0.3" text-anchor="middle" textLength="629" lengthAdjust="spacingAndGlyphs" >Percentage of flying ballons within a TC as a function of flight time</text>
<rect x="25" y="1137.5" width="1640.5" height="40.5" fill="#9e0142"/>
<rect x="1255.4" y="1137.5" width="410.1" height="40.5" fill="#ad1246"/>
<rect x="1460.4" y="1137.5" width="205.1" height="40.5" fill="#be254a"/>
<rect x="25" y="1137.5" width="1640.5" height="40.5" fill="none" stroke="#000" stroke-width="1.2"/>
<text x="1276.8" y="1162.3" font-size="14.6" font-weight="bold" stroke="#000" stroke-width="0.3" text-anchor="middle" textLength="8.6" lengthAdjust="spacingAndGlyphs" >3</text>
<text x="1317.8" y="1162.3" font-size="14.6" font-weight="bold" stroke="#000" stroke-width="0.3" text-anchor="middle" textLength="8.6" lengthAdjust="spacingAndGlyphs" >3</text>
<text x="1358.8" y="1162.3" font-size="14.6" font-weight="bold" stroke="#000" stroke-width="0.3" text-anchor="middle" textLength="8.6" lengthAdjust="spacingAndGlyphs" >3</text>
<text x="1399.8" y="1162.3" font-size="14.6" font-weight="bold" stroke="#000" stroke-width="0.3" text-anchor="middle" textLength="8.6" lengthAdjust="spacingAndGlyphs" >3</text>
<text x="1440.8" y="1162.3" font-size="14.6" font-weight="bold" stroke="#000" stroke-width="0.3" text-anchor="middle" textLength="8.6" lengthAdjust="spacingAndGlyphs" >3</text>
<text x="1481.8" y="1162.3" font-size="14.6" font-weight="bold" stroke="#000" stroke-width="0.3" text-anchor="middle" textLength="8.6" lengthAdjust="spacingAndGlyphs" >6</text>
<text x="1522.9" y="1162.3" font-size="14.6" font-weight="bold" stroke="#000" stroke-width="0.3" text-anchor="middle" textLength="8.6" lengthAdjust="spacingAndGlyphs" >6</text>
<text x="1563.9" y="1162.3" font-size="14.6" font-weight="bold" stroke="#000" stroke-width="0.3" text-anchor="middle" textLength="8.6" lengthAdjust="spacingAndGlyphs" >6</text>
<text x="1604.9" y="1162.3" font-size="14.6" font-weight="bold" stroke="#000" stroke-width="0.3" text-anchor="middle" textLength="8.6" lengthAdjust="spacingAndGlyphs" >6</text>
<text x="1645.9" y="1162.3" font-size="14.6" font-weight="bold" stroke="#000" stroke-width="0.3" text-anchor="middle" textLength="8.6" lengthAdjust="spacingAndGlyphs" >6</text>
<path d="M25,1178 v5.2" stroke="#000" stroke-width="1.1"/>
<path d="M66,1178 v5.2" stroke="#000" stroke-width="1.1"/>
<path d="M107,1178 v5.2" stroke="#000" stroke-width="1.1"/>
<path d="M148,1178 v5.2" stroke="#000" stroke-width="1.1"/>
<path d="M189.1,1178 v5.2" stroke="#000" stroke-width="1.1"/>
<path d="M230.1,1178 v5.2" stroke="#000" stroke-width="1.1"/>
<path d="M271.1,1178 v5.2" stroke="#000" stroke-width="1.1"/>
<path d="M312.1,1178 v5.2" stroke="#000" stroke-width="1.1"/>
<path d="M353.1,1178 v5.2" stroke="#000" stroke-width="1.1"/>
<path d="M394.1,1178 v5.2" stroke="#000" stroke-width="1.1"/>
<path d="M435.1,1178 v5.2" stroke="#000" stroke-width="1.1"/>
<path d="M476.1,1178 v5.2" stroke="#000" stroke-width="1.1"/>
<path d="M517.1,1178 v5.2" stroke="#000" stroke-width="1.1"/>
<path d="M558.2,1178 v5.2" stroke="#000" stroke-width="1.1"/>
<path d="M599.2,1178 v5.2" stroke="#000" stroke-width="1.1"/>
<path d="M640.2,1178 v5.2" stroke="#000" stroke-width="1.1"/>
<path d="M681.2,1178 v5.2" stroke="#000" stroke-width="1.1"/>
<path d="M722.2,1178 v5.2" stroke="#000" stroke-width="1.1"/>
<path d="M763.2,1178 v5.2" stroke="#000" stroke-width="1.1"/>
<path d="M804.2,1178 v5.2" stroke="#000" stroke-width="1.1"/>
<path d="M845.2,1178 v5.2" stroke="#000" stroke-width="1.1"/>
<path d="M886.3,1178 v5.2" stroke="#000" stroke-width="1.1"/>
<path d="M927.3,1178 v5.2" stroke="#000" stroke-width="1.1"/>
<path d="M968.3,1178 v5.2" stroke="#000" stroke-width="1.1"/>
<path d="M1009.3,1178 v5.2" stroke="#000" stroke-width="1.1"/>
<path d="M1050.3,1178 v5.2" stroke="#000" stroke-width="1.1"/>
<path d="M1091.3,1178 v5.2" stroke="#000" stroke-width="1.1"/>
<path d="M1132.3,1178 v5.2" stroke="#000" stroke-width="1.1"/>
<path d="M1173.3,1178 v5.2" stroke="#000" stroke-width="1.1"/>
<path d="M1214.4,1178 v5.2" stroke="#000" stroke-width="1.1"/>
<path d="M1255.4,1178 v5.2" stroke="#000" stroke-width="1.1"/>
<path d="M1296.4,1178 v5.2" stroke="#000" stroke-width="1.1"/>
<path d="M1337.4,1178 v5.2" stroke="#000" stroke-width="1.1"/>
<path d="M1378.4,1178 v5.2" stroke="#000" stroke-width="1.1"/>
<path d="M1419.4,1178 v5.2" stroke="#000" stroke-width="1.1"/>
<path d="M1460.4,1178 v5.2" stroke="#000" stroke-width="1.1"/>
<path d="M1501.5,1178 v5.2" stroke="#000" stroke-width="1.1"/>
<path d="M1542.5,1178 v5.2" stroke="#000" stroke-width="1.1"/>
<path d="M1583.5,1178 v5.2" stroke="#000" stroke-width="1.1"/>
<path d="M1624.5,1178 v5.2" stroke="#000" stroke-width="1.1"/>
<path d="M1665.5,1178 v5.2" stroke="#000" stroke-width="1.1"/>
<text x="25.7" y="1200.2" font-size="16.4" font-weight="bold" stroke="#000" stroke-width="0.3" text-anchor="middle" textLength="22" lengthAdjust="spacingAndGlyphs" >0h</text>
<text x="189.8" y="1200.2" font-size="16.4" font-weight="bold" stroke="#000" stroke-width="0.3" text-anchor="middle" textLength="32.6" lengthAdjust="spacingAndGlyphs" >12h</text>
<text x="353.8" y="1200.2" font-size="16.4" font-weight="bold" stroke="#000" stroke-width="0.3" text-anchor="middle" textLength="32.6" lengthAdjust="spacingAndGlyphs" >24h</text>
<text x="517.9" y="1200.2" font-size="16.4" font-weight="bold" stroke="#000" stroke-width="0.3" text-anchor="middle" textLength="32.6" lengthAdjust="spacingAndGlyphs" >36h</text>
<text x="681.9" y="1200.2" font-size="16.4" font-weight="bold" stroke="#000" stroke-width="0.3" text-anchor="middle" textLength="32.6" lengthAdjust="spacingAndGlyphs" >48h</text>
<text x="846" y="1200.2" font-size="16.4" font-weight="bold" stroke="#000" stroke-width="0.3" text-anchor="middle" textLength="32.6" lengthAdjust="spacingAndGlyphs" >60h</text>
<text x="1010" y="1200.2" font-size="16.4" font-weight="bold" stroke="#000" stroke-width="0.3" text-anchor="middle" textLength="32.6" lengthAdjust="spacingAndGlyphs" >72h</text>
<text x="1174" y="1200.2" font-size="16.4" font-weight="bold" stroke="#000" stroke-width="0.3" text-anchor="middle" textLength="32.6" lengthAdjust="spacingAndGlyphs" >84h</text>
<text x="1338.1" y="1200.2" font-size="16.4" font-weight="bold" stroke="#000" stroke-width="0.3" text-anchor="middle" textLength="32.6" lengthAdjust="spacingAndGlyphs" >96h</text>
<text x="1502.2" y="1200.2" font-size="16.4" font-weight="bold" stroke="#000" stroke-width="0.3" text-anchor="middle" textLength="43.1" lengthAdjust="spacingAndGlyphs" >108h</text>
<text x="1666.2" y="1200.2" font-size="16.4" font-weight="bold" stroke="#000" stroke-width="0.3" text-anchor="middle" textLength="43.1" lengthAdjust="spacingAndGlyphs" >120h</text>
<path d="M20.2,1158 H25" stroke="#000" stroke-width="1.1"/>
</svg></body></html>
